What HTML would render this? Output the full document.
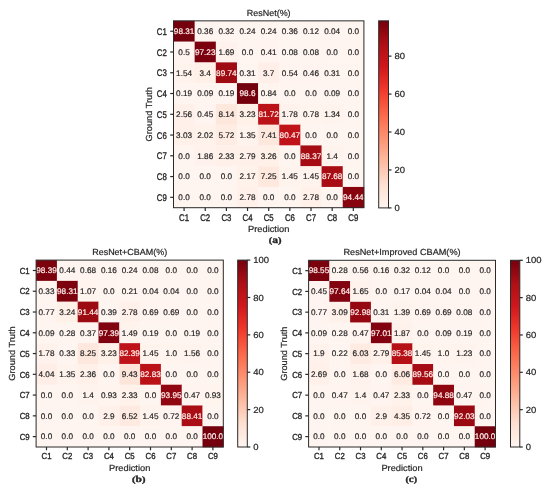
<!DOCTYPE html>
<html><head><meta charset="utf-8"><style>
html,body{margin:0;padding:0;background:#fff;}
body{width:550px;height:491px;overflow:hidden;}
svg{display:block;font-family:"Liberation Sans",sans-serif;text-rendering:geometricPrecision;will-change:transform;}
</style></head><body>
<svg width="550" height="491" viewBox="0 0 550 491">
<defs><linearGradient id="reds" x1="0" y1="0" x2="0" y2="1"><stop offset="0.0000" stop-color="#75000d"/><stop offset="0.1250" stop-color="#ae0f15"/><stop offset="0.2500" stop-color="#d1181d"/><stop offset="0.3750" stop-color="#f13a2c"/><stop offset="0.5000" stop-color="#fb694a"/><stop offset="0.6250" stop-color="#fc9272"/><stop offset="0.7500" stop-color="#fcbba1"/><stop offset="0.8750" stop-color="#fee0d2"/><stop offset="1.0000" stop-color="#fff5f0"/></linearGradient></defs>
<rect x="0" y="0" width="550" height="491" fill="#ffffff"/>
<rect x="173.50" y="20.85" width="21.46" height="21.06" fill="#75000d"/>
<rect x="194.66" y="20.85" width="21.46" height="21.06" fill="#fff5f0"/>
<rect x="215.81" y="20.85" width="21.46" height="21.06" fill="#fff5f0"/>
<rect x="236.97" y="20.85" width="21.46" height="21.06" fill="#fff5f0"/>
<rect x="258.12" y="20.85" width="21.46" height="21.06" fill="#fff5f0"/>
<rect x="279.28" y="20.85" width="21.46" height="21.06" fill="#fff5f0"/>
<rect x="300.43" y="20.85" width="21.46" height="21.06" fill="#fff5f0"/>
<rect x="321.59" y="20.85" width="21.46" height="21.06" fill="#fff5f0"/>
<rect x="342.74" y="20.85" width="21.46" height="21.06" fill="#fff5f0"/>
<rect x="173.50" y="41.61" width="21.46" height="21.06" fill="#fff4ef"/>
<rect x="194.66" y="41.61" width="21.46" height="21.06" fill="#7b010e"/>
<rect x="215.81" y="41.61" width="21.46" height="21.06" fill="#fff2ec"/>
<rect x="236.97" y="41.61" width="21.46" height="21.06" fill="#fff5f0"/>
<rect x="258.12" y="41.61" width="21.46" height="21.06" fill="#fff4ef"/>
<rect x="279.28" y="41.61" width="21.46" height="21.06" fill="#fff5f0"/>
<rect x="300.43" y="41.61" width="21.46" height="21.06" fill="#fff5f0"/>
<rect x="321.59" y="41.61" width="21.46" height="21.06" fill="#fff5f0"/>
<rect x="342.74" y="41.61" width="21.46" height="21.06" fill="#fff5f0"/>
<rect x="173.50" y="62.37" width="21.46" height="21.06" fill="#fff3ed"/>
<rect x="194.66" y="62.37" width="21.46" height="21.06" fill="#fff0e8"/>
<rect x="215.81" y="62.37" width="21.46" height="21.06" fill="#9f0b13"/>
<rect x="236.97" y="62.37" width="21.46" height="21.06" fill="#fff5f0"/>
<rect x="258.12" y="62.37" width="21.46" height="21.06" fill="#ffefe8"/>
<rect x="279.28" y="62.37" width="21.46" height="21.06" fill="#fff4ef"/>
<rect x="300.43" y="62.37" width="21.46" height="21.06" fill="#fff4ef"/>
<rect x="321.59" y="62.37" width="21.46" height="21.06" fill="#fff5f0"/>
<rect x="342.74" y="62.37" width="21.46" height="21.06" fill="#fff5f0"/>
<rect x="173.50" y="83.13" width="21.46" height="21.06" fill="#fff5f0"/>
<rect x="194.66" y="83.13" width="21.46" height="21.06" fill="#fff5f0"/>
<rect x="215.81" y="83.13" width="21.46" height="21.06" fill="#fff5f0"/>
<rect x="236.97" y="83.13" width="21.46" height="21.06" fill="#75000d"/>
<rect x="258.12" y="83.13" width="21.46" height="21.06" fill="#fff4ee"/>
<rect x="279.28" y="83.13" width="21.46" height="21.06" fill="#fff5f0"/>
<rect x="300.43" y="83.13" width="21.46" height="21.06" fill="#fff5f0"/>
<rect x="321.59" y="83.13" width="21.46" height="21.06" fill="#fff5f0"/>
<rect x="342.74" y="83.13" width="21.46" height="21.06" fill="#fff5f0"/>
<rect x="173.50" y="103.89" width="21.46" height="21.06" fill="#fff1ea"/>
<rect x="194.66" y="103.89" width="21.46" height="21.06" fill="#fff4ef"/>
<rect x="215.81" y="103.89" width="21.46" height="21.06" fill="#fee7dc"/>
<rect x="236.97" y="103.89" width="21.46" height="21.06" fill="#fff0e8"/>
<rect x="258.12" y="103.89" width="21.46" height="21.06" fill="#bb1218"/>
<rect x="279.28" y="103.89" width="21.46" height="21.06" fill="#fff2ec"/>
<rect x="300.43" y="103.89" width="21.46" height="21.06" fill="#fff4ee"/>
<rect x="321.59" y="103.89" width="21.46" height="21.06" fill="#fff3ed"/>
<rect x="342.74" y="103.89" width="21.46" height="21.06" fill="#fff5f0"/>
<rect x="173.50" y="124.66" width="21.46" height="21.06" fill="#fff0e9"/>
<rect x="194.66" y="124.66" width="21.46" height="21.06" fill="#fff2eb"/>
<rect x="215.81" y="124.66" width="21.46" height="21.06" fill="#ffece3"/>
<rect x="236.97" y="124.66" width="21.46" height="21.06" fill="#fff3ed"/>
<rect x="258.12" y="124.66" width="21.46" height="21.06" fill="#fee8de"/>
<rect x="279.28" y="124.66" width="21.46" height="21.06" fill="#c01319"/>
<rect x="300.43" y="124.66" width="21.46" height="21.06" fill="#fff5f0"/>
<rect x="321.59" y="124.66" width="21.46" height="21.06" fill="#fff5f0"/>
<rect x="342.74" y="124.66" width="21.46" height="21.06" fill="#fff5f0"/>
<rect x="173.50" y="145.42" width="21.46" height="21.06" fill="#fff5f0"/>
<rect x="194.66" y="145.42" width="21.46" height="21.06" fill="#fff2ec"/>
<rect x="215.81" y="145.42" width="21.46" height="21.06" fill="#fff1ea"/>
<rect x="236.97" y="145.42" width="21.46" height="21.06" fill="#fff0e9"/>
<rect x="258.12" y="145.42" width="21.46" height="21.06" fill="#fff0e8"/>
<rect x="279.28" y="145.42" width="21.46" height="21.06" fill="#fff5f0"/>
<rect x="300.43" y="145.42" width="21.46" height="21.06" fill="#a50c14"/>
<rect x="321.59" y="145.42" width="21.46" height="21.06" fill="#fff3ed"/>
<rect x="342.74" y="145.42" width="21.46" height="21.06" fill="#fff5f0"/>
<rect x="173.50" y="166.18" width="21.46" height="21.06" fill="#fff5f0"/>
<rect x="194.66" y="166.18" width="21.46" height="21.06" fill="#fff5f0"/>
<rect x="215.81" y="166.18" width="21.46" height="21.06" fill="#fff5f0"/>
<rect x="236.97" y="166.18" width="21.46" height="21.06" fill="#fff2eb"/>
<rect x="258.12" y="166.18" width="21.46" height="21.06" fill="#ffe9df"/>
<rect x="279.28" y="166.18" width="21.46" height="21.06" fill="#fff3ed"/>
<rect x="300.43" y="166.18" width="21.46" height="21.06" fill="#fff3ed"/>
<rect x="321.59" y="166.18" width="21.46" height="21.06" fill="#a80d14"/>
<rect x="342.74" y="166.18" width="21.46" height="21.06" fill="#fff5f0"/>
<rect x="173.50" y="186.94" width="21.46" height="21.06" fill="#fff5f0"/>
<rect x="194.66" y="186.94" width="21.46" height="21.06" fill="#fff5f0"/>
<rect x="215.81" y="186.94" width="21.46" height="21.06" fill="#fff5f0"/>
<rect x="236.97" y="186.94" width="21.46" height="21.06" fill="#fff0e9"/>
<rect x="258.12" y="186.94" width="21.46" height="21.06" fill="#fff5f0"/>
<rect x="279.28" y="186.94" width="21.46" height="21.06" fill="#fff5f0"/>
<rect x="300.43" y="186.94" width="21.46" height="21.06" fill="#fff0e9"/>
<rect x="321.59" y="186.94" width="21.46" height="21.06" fill="#fff5f0"/>
<rect x="342.74" y="186.94" width="21.46" height="21.06" fill="#880510"/>
<text x="184.08" y="34.05" font-size="8.16" text-anchor="middle" fill="#fff2ee" stroke="#fff2ee" stroke-width="0.2" textLength="20.50" lengthAdjust="spacingAndGlyphs" >98.31</text>
<text x="205.23" y="34.05" font-size="8.16" text-anchor="middle" fill="#262626" stroke="#262626" stroke-width="0.2" textLength="15.94" lengthAdjust="spacingAndGlyphs" >0.36</text>
<text x="226.39" y="34.05" font-size="8.16" text-anchor="middle" fill="#262626" stroke="#262626" stroke-width="0.2" textLength="15.94" lengthAdjust="spacingAndGlyphs" >0.32</text>
<text x="247.54" y="34.05" font-size="8.16" text-anchor="middle" fill="#262626" stroke="#262626" stroke-width="0.2" textLength="15.94" lengthAdjust="spacingAndGlyphs" >0.24</text>
<text x="268.70" y="34.05" font-size="8.16" text-anchor="middle" fill="#262626" stroke="#262626" stroke-width="0.2" textLength="15.94" lengthAdjust="spacingAndGlyphs" >0.24</text>
<text x="289.86" y="34.05" font-size="8.16" text-anchor="middle" fill="#262626" stroke="#262626" stroke-width="0.2" textLength="15.94" lengthAdjust="spacingAndGlyphs" >0.36</text>
<text x="311.01" y="34.05" font-size="8.16" text-anchor="middle" fill="#262626" stroke="#262626" stroke-width="0.2" textLength="15.94" lengthAdjust="spacingAndGlyphs" >0.12</text>
<text x="332.17" y="34.05" font-size="8.16" text-anchor="middle" fill="#262626" stroke="#262626" stroke-width="0.2" textLength="15.94" lengthAdjust="spacingAndGlyphs" >0.04</text>
<text x="353.32" y="34.05" font-size="8.16" text-anchor="middle" fill="#262626" stroke="#262626" stroke-width="0.2" textLength="11.39" lengthAdjust="spacingAndGlyphs" >0.0</text>
<text x="184.08" y="54.81" font-size="8.16" text-anchor="middle" fill="#262626" stroke="#262626" stroke-width="0.2" textLength="11.39" lengthAdjust="spacingAndGlyphs" >0.5</text>
<text x="205.23" y="54.81" font-size="8.16" text-anchor="middle" fill="#fff2ee" stroke="#fff2ee" stroke-width="0.2" textLength="20.50" lengthAdjust="spacingAndGlyphs" >97.23</text>
<text x="226.39" y="54.81" font-size="8.16" text-anchor="middle" fill="#262626" stroke="#262626" stroke-width="0.2" textLength="15.94" lengthAdjust="spacingAndGlyphs" >1.69</text>
<text x="247.54" y="54.81" font-size="8.16" text-anchor="middle" fill="#262626" stroke="#262626" stroke-width="0.2" textLength="11.39" lengthAdjust="spacingAndGlyphs" >0.0</text>
<text x="268.70" y="54.81" font-size="8.16" text-anchor="middle" fill="#262626" stroke="#262626" stroke-width="0.2" textLength="15.94" lengthAdjust="spacingAndGlyphs" >0.41</text>
<text x="289.86" y="54.81" font-size="8.16" text-anchor="middle" fill="#262626" stroke="#262626" stroke-width="0.2" textLength="15.94" lengthAdjust="spacingAndGlyphs" >0.08</text>
<text x="311.01" y="54.81" font-size="8.16" text-anchor="middle" fill="#262626" stroke="#262626" stroke-width="0.2" textLength="15.94" lengthAdjust="spacingAndGlyphs" >0.08</text>
<text x="332.17" y="54.81" font-size="8.16" text-anchor="middle" fill="#262626" stroke="#262626" stroke-width="0.2" textLength="11.39" lengthAdjust="spacingAndGlyphs" >0.0</text>
<text x="353.32" y="54.81" font-size="8.16" text-anchor="middle" fill="#262626" stroke="#262626" stroke-width="0.2" textLength="11.39" lengthAdjust="spacingAndGlyphs" >0.0</text>
<text x="184.08" y="75.57" font-size="8.16" text-anchor="middle" fill="#262626" stroke="#262626" stroke-width="0.2" textLength="15.94" lengthAdjust="spacingAndGlyphs" >1.54</text>
<text x="205.23" y="75.57" font-size="8.16" text-anchor="middle" fill="#262626" stroke="#262626" stroke-width="0.2" textLength="11.39" lengthAdjust="spacingAndGlyphs" >3.4</text>
<text x="226.39" y="75.57" font-size="8.16" text-anchor="middle" fill="#fff2ee" stroke="#fff2ee" stroke-width="0.2" textLength="20.50" lengthAdjust="spacingAndGlyphs" >89.74</text>
<text x="247.54" y="75.57" font-size="8.16" text-anchor="middle" fill="#262626" stroke="#262626" stroke-width="0.2" textLength="15.94" lengthAdjust="spacingAndGlyphs" >0.31</text>
<text x="268.70" y="75.57" font-size="8.16" text-anchor="middle" fill="#262626" stroke="#262626" stroke-width="0.2" textLength="11.39" lengthAdjust="spacingAndGlyphs" >3.7</text>
<text x="289.86" y="75.57" font-size="8.16" text-anchor="middle" fill="#262626" stroke="#262626" stroke-width="0.2" textLength="15.94" lengthAdjust="spacingAndGlyphs" >0.54</text>
<text x="311.01" y="75.57" font-size="8.16" text-anchor="middle" fill="#262626" stroke="#262626" stroke-width="0.2" textLength="15.94" lengthAdjust="spacingAndGlyphs" >0.46</text>
<text x="332.17" y="75.57" font-size="8.16" text-anchor="middle" fill="#262626" stroke="#262626" stroke-width="0.2" textLength="15.94" lengthAdjust="spacingAndGlyphs" >0.31</text>
<text x="353.32" y="75.57" font-size="8.16" text-anchor="middle" fill="#262626" stroke="#262626" stroke-width="0.2" textLength="11.39" lengthAdjust="spacingAndGlyphs" >0.0</text>
<text x="184.08" y="96.33" font-size="8.16" text-anchor="middle" fill="#262626" stroke="#262626" stroke-width="0.2" textLength="15.94" lengthAdjust="spacingAndGlyphs" >0.19</text>
<text x="205.23" y="96.33" font-size="8.16" text-anchor="middle" fill="#262626" stroke="#262626" stroke-width="0.2" textLength="15.94" lengthAdjust="spacingAndGlyphs" >0.09</text>
<text x="226.39" y="96.33" font-size="8.16" text-anchor="middle" fill="#262626" stroke="#262626" stroke-width="0.2" textLength="15.94" lengthAdjust="spacingAndGlyphs" >0.19</text>
<text x="247.54" y="96.33" font-size="8.16" text-anchor="middle" fill="#fff2ee" stroke="#fff2ee" stroke-width="0.2" textLength="15.94" lengthAdjust="spacingAndGlyphs" >98.6</text>
<text x="268.70" y="96.33" font-size="8.16" text-anchor="middle" fill="#262626" stroke="#262626" stroke-width="0.2" textLength="15.94" lengthAdjust="spacingAndGlyphs" >0.84</text>
<text x="289.86" y="96.33" font-size="8.16" text-anchor="middle" fill="#262626" stroke="#262626" stroke-width="0.2" textLength="11.39" lengthAdjust="spacingAndGlyphs" >0.0</text>
<text x="311.01" y="96.33" font-size="8.16" text-anchor="middle" fill="#262626" stroke="#262626" stroke-width="0.2" textLength="11.39" lengthAdjust="spacingAndGlyphs" >0.0</text>
<text x="332.17" y="96.33" font-size="8.16" text-anchor="middle" fill="#262626" stroke="#262626" stroke-width="0.2" textLength="15.94" lengthAdjust="spacingAndGlyphs" >0.09</text>
<text x="353.32" y="96.33" font-size="8.16" text-anchor="middle" fill="#262626" stroke="#262626" stroke-width="0.2" textLength="11.39" lengthAdjust="spacingAndGlyphs" >0.0</text>
<text x="184.08" y="117.09" font-size="8.16" text-anchor="middle" fill="#262626" stroke="#262626" stroke-width="0.2" textLength="15.94" lengthAdjust="spacingAndGlyphs" >2.56</text>
<text x="205.23" y="117.09" font-size="8.16" text-anchor="middle" fill="#262626" stroke="#262626" stroke-width="0.2" textLength="15.94" lengthAdjust="spacingAndGlyphs" >0.45</text>
<text x="226.39" y="117.09" font-size="8.16" text-anchor="middle" fill="#262626" stroke="#262626" stroke-width="0.2" textLength="15.94" lengthAdjust="spacingAndGlyphs" >8.14</text>
<text x="247.54" y="117.09" font-size="8.16" text-anchor="middle" fill="#262626" stroke="#262626" stroke-width="0.2" textLength="15.94" lengthAdjust="spacingAndGlyphs" >3.23</text>
<text x="268.70" y="117.09" font-size="8.16" text-anchor="middle" fill="#fff2ee" stroke="#fff2ee" stroke-width="0.2" textLength="20.50" lengthAdjust="spacingAndGlyphs" >81.72</text>
<text x="289.86" y="117.09" font-size="8.16" text-anchor="middle" fill="#262626" stroke="#262626" stroke-width="0.2" textLength="15.94" lengthAdjust="spacingAndGlyphs" >1.78</text>
<text x="311.01" y="117.09" font-size="8.16" text-anchor="middle" fill="#262626" stroke="#262626" stroke-width="0.2" textLength="15.94" lengthAdjust="spacingAndGlyphs" >0.78</text>
<text x="332.17" y="117.09" font-size="8.16" text-anchor="middle" fill="#262626" stroke="#262626" stroke-width="0.2" textLength="15.94" lengthAdjust="spacingAndGlyphs" >1.34</text>
<text x="353.32" y="117.09" font-size="8.16" text-anchor="middle" fill="#262626" stroke="#262626" stroke-width="0.2" textLength="11.39" lengthAdjust="spacingAndGlyphs" >0.0</text>
<text x="184.08" y="137.85" font-size="8.16" text-anchor="middle" fill="#262626" stroke="#262626" stroke-width="0.2" textLength="15.94" lengthAdjust="spacingAndGlyphs" >3.03</text>
<text x="205.23" y="137.85" font-size="8.16" text-anchor="middle" fill="#262626" stroke="#262626" stroke-width="0.2" textLength="15.94" lengthAdjust="spacingAndGlyphs" >2.02</text>
<text x="226.39" y="137.85" font-size="8.16" text-anchor="middle" fill="#262626" stroke="#262626" stroke-width="0.2" textLength="15.94" lengthAdjust="spacingAndGlyphs" >5.72</text>
<text x="247.54" y="137.85" font-size="8.16" text-anchor="middle" fill="#262626" stroke="#262626" stroke-width="0.2" textLength="15.94" lengthAdjust="spacingAndGlyphs" >1.35</text>
<text x="268.70" y="137.85" font-size="8.16" text-anchor="middle" fill="#262626" stroke="#262626" stroke-width="0.2" textLength="15.94" lengthAdjust="spacingAndGlyphs" >7.41</text>
<text x="289.86" y="137.85" font-size="8.16" text-anchor="middle" fill="#fff2ee" stroke="#fff2ee" stroke-width="0.2" textLength="20.50" lengthAdjust="spacingAndGlyphs" >80.47</text>
<text x="311.01" y="137.85" font-size="8.16" text-anchor="middle" fill="#262626" stroke="#262626" stroke-width="0.2" textLength="11.39" lengthAdjust="spacingAndGlyphs" >0.0</text>
<text x="332.17" y="137.85" font-size="8.16" text-anchor="middle" fill="#262626" stroke="#262626" stroke-width="0.2" textLength="11.39" lengthAdjust="spacingAndGlyphs" >0.0</text>
<text x="353.32" y="137.85" font-size="8.16" text-anchor="middle" fill="#262626" stroke="#262626" stroke-width="0.2" textLength="11.39" lengthAdjust="spacingAndGlyphs" >0.0</text>
<text x="184.08" y="158.61" font-size="8.16" text-anchor="middle" fill="#262626" stroke="#262626" stroke-width="0.2" textLength="11.39" lengthAdjust="spacingAndGlyphs" >0.0</text>
<text x="205.23" y="158.61" font-size="8.16" text-anchor="middle" fill="#262626" stroke="#262626" stroke-width="0.2" textLength="15.94" lengthAdjust="spacingAndGlyphs" >1.86</text>
<text x="226.39" y="158.61" font-size="8.16" text-anchor="middle" fill="#262626" stroke="#262626" stroke-width="0.2" textLength="15.94" lengthAdjust="spacingAndGlyphs" >2.33</text>
<text x="247.54" y="158.61" font-size="8.16" text-anchor="middle" fill="#262626" stroke="#262626" stroke-width="0.2" textLength="15.94" lengthAdjust="spacingAndGlyphs" >2.79</text>
<text x="268.70" y="158.61" font-size="8.16" text-anchor="middle" fill="#262626" stroke="#262626" stroke-width="0.2" textLength="15.94" lengthAdjust="spacingAndGlyphs" >3.26</text>
<text x="289.86" y="158.61" font-size="8.16" text-anchor="middle" fill="#262626" stroke="#262626" stroke-width="0.2" textLength="11.39" lengthAdjust="spacingAndGlyphs" >0.0</text>
<text x="311.01" y="158.61" font-size="8.16" text-anchor="middle" fill="#fff2ee" stroke="#fff2ee" stroke-width="0.2" textLength="20.50" lengthAdjust="spacingAndGlyphs" >88.37</text>
<text x="332.17" y="158.61" font-size="8.16" text-anchor="middle" fill="#262626" stroke="#262626" stroke-width="0.2" textLength="11.39" lengthAdjust="spacingAndGlyphs" >1.4</text>
<text x="353.32" y="158.61" font-size="8.16" text-anchor="middle" fill="#262626" stroke="#262626" stroke-width="0.2" textLength="11.39" lengthAdjust="spacingAndGlyphs" >0.0</text>
<text x="184.08" y="179.37" font-size="8.16" text-anchor="middle" fill="#262626" stroke="#262626" stroke-width="0.2" textLength="11.39" lengthAdjust="spacingAndGlyphs" >0.0</text>
<text x="205.23" y="179.37" font-size="8.16" text-anchor="middle" fill="#262626" stroke="#262626" stroke-width="0.2" textLength="11.39" lengthAdjust="spacingAndGlyphs" >0.0</text>
<text x="226.39" y="179.37" font-size="8.16" text-anchor="middle" fill="#262626" stroke="#262626" stroke-width="0.2" textLength="11.39" lengthAdjust="spacingAndGlyphs" >0.0</text>
<text x="247.54" y="179.37" font-size="8.16" text-anchor="middle" fill="#262626" stroke="#262626" stroke-width="0.2" textLength="15.94" lengthAdjust="spacingAndGlyphs" >2.17</text>
<text x="268.70" y="179.37" font-size="8.16" text-anchor="middle" fill="#262626" stroke="#262626" stroke-width="0.2" textLength="15.94" lengthAdjust="spacingAndGlyphs" >7.25</text>
<text x="289.86" y="179.37" font-size="8.16" text-anchor="middle" fill="#262626" stroke="#262626" stroke-width="0.2" textLength="15.94" lengthAdjust="spacingAndGlyphs" >1.45</text>
<text x="311.01" y="179.37" font-size="8.16" text-anchor="middle" fill="#262626" stroke="#262626" stroke-width="0.2" textLength="15.94" lengthAdjust="spacingAndGlyphs" >1.45</text>
<text x="332.17" y="179.37" font-size="8.16" text-anchor="middle" fill="#fff2ee" stroke="#fff2ee" stroke-width="0.2" textLength="20.50" lengthAdjust="spacingAndGlyphs" >87.68</text>
<text x="353.32" y="179.37" font-size="8.16" text-anchor="middle" fill="#262626" stroke="#262626" stroke-width="0.2" textLength="11.39" lengthAdjust="spacingAndGlyphs" >0.0</text>
<text x="184.08" y="200.14" font-size="8.16" text-anchor="middle" fill="#262626" stroke="#262626" stroke-width="0.2" textLength="11.39" lengthAdjust="spacingAndGlyphs" >0.0</text>
<text x="205.23" y="200.14" font-size="8.16" text-anchor="middle" fill="#262626" stroke="#262626" stroke-width="0.2" textLength="11.39" lengthAdjust="spacingAndGlyphs" >0.0</text>
<text x="226.39" y="200.14" font-size="8.16" text-anchor="middle" fill="#262626" stroke="#262626" stroke-width="0.2" textLength="11.39" lengthAdjust="spacingAndGlyphs" >0.0</text>
<text x="247.54" y="200.14" font-size="8.16" text-anchor="middle" fill="#262626" stroke="#262626" stroke-width="0.2" textLength="15.94" lengthAdjust="spacingAndGlyphs" >2.78</text>
<text x="268.70" y="200.14" font-size="8.16" text-anchor="middle" fill="#262626" stroke="#262626" stroke-width="0.2" textLength="11.39" lengthAdjust="spacingAndGlyphs" >0.0</text>
<text x="289.86" y="200.14" font-size="8.16" text-anchor="middle" fill="#262626" stroke="#262626" stroke-width="0.2" textLength="11.39" lengthAdjust="spacingAndGlyphs" >0.0</text>
<text x="311.01" y="200.14" font-size="8.16" text-anchor="middle" fill="#262626" stroke="#262626" stroke-width="0.2" textLength="15.94" lengthAdjust="spacingAndGlyphs" >2.78</text>
<text x="332.17" y="200.14" font-size="8.16" text-anchor="middle" fill="#262626" stroke="#262626" stroke-width="0.2" textLength="11.39" lengthAdjust="spacingAndGlyphs" >0.0</text>
<text x="353.32" y="200.14" font-size="8.16" text-anchor="middle" fill="#fff2ee" stroke="#fff2ee" stroke-width="0.2" textLength="20.50" lengthAdjust="spacingAndGlyphs" >94.44</text>
<rect x="173.50" y="20.85" width="190.40" height="186.85" fill="none" stroke="#2a2a2a" stroke-width="1.0"/>
<line x1="170.20" y1="31.23" x2="173.50" y2="31.23" stroke="#2a2a2a" stroke-width="1.2"/>
<text x="166.80" y="34.77" font-size="9.68" text-anchor="end" fill="#262626" stroke="#262626" stroke-width="0.35" textLength="9.97" lengthAdjust="spacingAndGlyphs" >C1</text>
<line x1="184.08" y1="207.70" x2="184.08" y2="211.00" stroke="#2a2a2a" stroke-width="1.2"/>
<text x="184.08" y="220.55" font-size="9.68" text-anchor="middle" fill="#262626" stroke="#262626" stroke-width="0.35" textLength="9.97" lengthAdjust="spacingAndGlyphs" >C1</text>
<line x1="170.20" y1="51.99" x2="173.50" y2="51.99" stroke="#2a2a2a" stroke-width="1.2"/>
<text x="166.80" y="55.53" font-size="9.68" text-anchor="end" fill="#262626" stroke="#262626" stroke-width="0.35" textLength="9.97" lengthAdjust="spacingAndGlyphs" >C2</text>
<line x1="205.23" y1="207.70" x2="205.23" y2="211.00" stroke="#2a2a2a" stroke-width="1.2"/>
<text x="205.23" y="220.55" font-size="9.68" text-anchor="middle" fill="#262626" stroke="#262626" stroke-width="0.35" textLength="9.97" lengthAdjust="spacingAndGlyphs" >C2</text>
<line x1="170.20" y1="72.75" x2="173.50" y2="72.75" stroke="#2a2a2a" stroke-width="1.2"/>
<text x="166.80" y="76.29" font-size="9.68" text-anchor="end" fill="#262626" stroke="#262626" stroke-width="0.35" textLength="9.97" lengthAdjust="spacingAndGlyphs" >C3</text>
<line x1="226.39" y1="207.70" x2="226.39" y2="211.00" stroke="#2a2a2a" stroke-width="1.2"/>
<text x="226.39" y="220.55" font-size="9.68" text-anchor="middle" fill="#262626" stroke="#262626" stroke-width="0.35" textLength="9.97" lengthAdjust="spacingAndGlyphs" >C3</text>
<line x1="170.20" y1="93.51" x2="173.50" y2="93.51" stroke="#2a2a2a" stroke-width="1.2"/>
<text x="166.80" y="97.05" font-size="9.68" text-anchor="end" fill="#262626" stroke="#262626" stroke-width="0.35" textLength="9.97" lengthAdjust="spacingAndGlyphs" >C4</text>
<line x1="247.54" y1="207.70" x2="247.54" y2="211.00" stroke="#2a2a2a" stroke-width="1.2"/>
<text x="247.54" y="220.55" font-size="9.68" text-anchor="middle" fill="#262626" stroke="#262626" stroke-width="0.35" textLength="9.97" lengthAdjust="spacingAndGlyphs" >C4</text>
<line x1="170.20" y1="114.28" x2="173.50" y2="114.28" stroke="#2a2a2a" stroke-width="1.2"/>
<text x="166.80" y="117.81" font-size="9.68" text-anchor="end" fill="#262626" stroke="#262626" stroke-width="0.35" textLength="9.97" lengthAdjust="spacingAndGlyphs" >C5</text>
<line x1="268.70" y1="207.70" x2="268.70" y2="211.00" stroke="#2a2a2a" stroke-width="1.2"/>
<text x="268.70" y="220.55" font-size="9.68" text-anchor="middle" fill="#262626" stroke="#262626" stroke-width="0.35" textLength="9.97" lengthAdjust="spacingAndGlyphs" >C5</text>
<line x1="170.20" y1="135.04" x2="173.50" y2="135.04" stroke="#2a2a2a" stroke-width="1.2"/>
<text x="166.80" y="138.57" font-size="9.68" text-anchor="end" fill="#262626" stroke="#262626" stroke-width="0.35" textLength="9.97" lengthAdjust="spacingAndGlyphs" >C6</text>
<line x1="289.86" y1="207.70" x2="289.86" y2="211.00" stroke="#2a2a2a" stroke-width="1.2"/>
<text x="289.86" y="220.55" font-size="9.68" text-anchor="middle" fill="#262626" stroke="#262626" stroke-width="0.35" textLength="9.97" lengthAdjust="spacingAndGlyphs" >C6</text>
<line x1="170.20" y1="155.80" x2="173.50" y2="155.80" stroke="#2a2a2a" stroke-width="1.2"/>
<text x="166.80" y="159.34" font-size="9.68" text-anchor="end" fill="#262626" stroke="#262626" stroke-width="0.35" textLength="9.97" lengthAdjust="spacingAndGlyphs" >C7</text>
<line x1="311.01" y1="207.70" x2="311.01" y2="211.00" stroke="#2a2a2a" stroke-width="1.2"/>
<text x="311.01" y="220.55" font-size="9.68" text-anchor="middle" fill="#262626" stroke="#262626" stroke-width="0.35" textLength="9.97" lengthAdjust="spacingAndGlyphs" >C7</text>
<line x1="170.20" y1="176.56" x2="173.50" y2="176.56" stroke="#2a2a2a" stroke-width="1.2"/>
<text x="166.80" y="180.10" font-size="9.68" text-anchor="end" fill="#262626" stroke="#262626" stroke-width="0.35" textLength="9.97" lengthAdjust="spacingAndGlyphs" >C8</text>
<line x1="332.17" y1="207.70" x2="332.17" y2="211.00" stroke="#2a2a2a" stroke-width="1.2"/>
<text x="332.17" y="220.55" font-size="9.68" text-anchor="middle" fill="#262626" stroke="#262626" stroke-width="0.35" textLength="9.97" lengthAdjust="spacingAndGlyphs" >C8</text>
<line x1="170.20" y1="197.32" x2="173.50" y2="197.32" stroke="#2a2a2a" stroke-width="1.2"/>
<text x="166.80" y="200.86" font-size="9.68" text-anchor="end" fill="#262626" stroke="#262626" stroke-width="0.35" textLength="9.97" lengthAdjust="spacingAndGlyphs" >C9</text>
<line x1="353.32" y1="207.70" x2="353.32" y2="211.00" stroke="#2a2a2a" stroke-width="1.2"/>
<text x="353.32" y="220.55" font-size="9.68" text-anchor="middle" fill="#262626" stroke="#262626" stroke-width="0.35" textLength="9.97" lengthAdjust="spacingAndGlyphs" >C9</text>
<text x="268.70" y="15.50" font-size="8.80" text-anchor="middle" fill="#262626" stroke="#262626" stroke-width="0.2" textLength="43.76" lengthAdjust="spacingAndGlyphs" >ResNet(%)</text>
<text x="268.70" y="232.20" font-size="8.80" text-anchor="middle" fill="#262626" stroke="#262626" stroke-width="0.2" textLength="41.23" lengthAdjust="spacingAndGlyphs" >Prediction</text>
<text x="152.20" y="114.27" font-size="8.80" text-anchor="middle" fill="#262626" stroke="#262626" stroke-width="0.2" textLength="54.21" lengthAdjust="spacingAndGlyphs" transform="rotate(-90 152.20 114.27)">Ground Truth</text>
<rect x="378.70" y="20.85" width="9.80" height="187.05" fill="url(#reds)" stroke="#2a2a2a" stroke-width="1.0"/>
<line x1="388.50" y1="207.90" x2="391.50" y2="207.90" stroke="#2a2a2a" stroke-width="1.2"/>
<text x="394.50" y="210.94" font-size="8.80" text-anchor="start" fill="#262626" stroke="#262626" stroke-width="0.2" textLength="5.28" lengthAdjust="spacingAndGlyphs" >0</text>
<line x1="388.50" y1="169.96" x2="391.50" y2="169.96" stroke="#2a2a2a" stroke-width="1.2"/>
<text x="394.50" y="172.99" font-size="8.80" text-anchor="start" fill="#262626" stroke="#262626" stroke-width="0.2" textLength="10.56" lengthAdjust="spacingAndGlyphs" >20</text>
<line x1="388.50" y1="132.02" x2="391.50" y2="132.02" stroke="#2a2a2a" stroke-width="1.2"/>
<text x="394.50" y="135.05" font-size="8.80" text-anchor="start" fill="#262626" stroke="#262626" stroke-width="0.2" textLength="10.56" lengthAdjust="spacingAndGlyphs" >40</text>
<line x1="388.50" y1="94.08" x2="391.50" y2="94.08" stroke="#2a2a2a" stroke-width="1.2"/>
<text x="394.50" y="97.11" font-size="8.80" text-anchor="start" fill="#262626" stroke="#262626" stroke-width="0.2" textLength="10.56" lengthAdjust="spacingAndGlyphs" >60</text>
<line x1="388.50" y1="56.14" x2="391.50" y2="56.14" stroke="#2a2a2a" stroke-width="1.2"/>
<text x="394.50" y="59.17" font-size="8.80" text-anchor="start" fill="#262626" stroke="#262626" stroke-width="0.2" textLength="10.56" lengthAdjust="spacingAndGlyphs" >80</text>
<text x="275.05" y="243.46" font-size="8.57" font-weight="bold" font-family="Liberation Serif, serif" text-anchor="middle" fill="#262626" stroke="#262626" stroke-width="0.35" textLength="12.85" lengthAdjust="spacingAndGlyphs">(<tspan font-size="9.43">a</tspan>)</text>
<rect x="36.10" y="260.10" width="21.10" height="21.07" fill="#7c020e"/>
<rect x="56.90" y="260.10" width="21.10" height="21.07" fill="#fff4ef"/>
<rect x="77.70" y="260.10" width="21.10" height="21.07" fill="#fff4ef"/>
<rect x="98.50" y="260.10" width="21.10" height="21.07" fill="#fff5f0"/>
<rect x="119.30" y="260.10" width="21.10" height="21.07" fill="#fff5f0"/>
<rect x="140.10" y="260.10" width="21.10" height="21.07" fill="#fff5f0"/>
<rect x="160.90" y="260.10" width="21.10" height="21.07" fill="#fff5f0"/>
<rect x="181.70" y="260.10" width="21.10" height="21.07" fill="#fff5f0"/>
<rect x="202.50" y="260.10" width="21.10" height="21.07" fill="#fff5f0"/>
<rect x="36.10" y="280.87" width="21.10" height="21.07" fill="#fff5f0"/>
<rect x="56.90" y="280.87" width="21.10" height="21.07" fill="#7c020e"/>
<rect x="77.70" y="280.87" width="21.10" height="21.07" fill="#fff4ee"/>
<rect x="98.50" y="280.87" width="21.10" height="21.07" fill="#fff5f0"/>
<rect x="119.30" y="280.87" width="21.10" height="21.07" fill="#fff5f0"/>
<rect x="140.10" y="280.87" width="21.10" height="21.07" fill="#fff5f0"/>
<rect x="160.90" y="280.87" width="21.10" height="21.07" fill="#fff5f0"/>
<rect x="181.70" y="280.87" width="21.10" height="21.07" fill="#fff5f0"/>
<rect x="202.50" y="280.87" width="21.10" height="21.07" fill="#fff5f0"/>
<rect x="36.10" y="301.63" width="21.10" height="21.07" fill="#fff4ef"/>
<rect x="56.90" y="301.63" width="21.10" height="21.07" fill="#fff0e8"/>
<rect x="77.70" y="301.63" width="21.10" height="21.07" fill="#9c0a12"/>
<rect x="98.50" y="301.63" width="21.10" height="21.07" fill="#fff5f0"/>
<rect x="119.30" y="301.63" width="21.10" height="21.07" fill="#fff0e9"/>
<rect x="140.10" y="301.63" width="21.10" height="21.07" fill="#fff4ef"/>
<rect x="160.90" y="301.63" width="21.10" height="21.07" fill="#fff4ef"/>
<rect x="181.70" y="301.63" width="21.10" height="21.07" fill="#fff5f0"/>
<rect x="202.50" y="301.63" width="21.10" height="21.07" fill="#fff5f0"/>
<rect x="36.10" y="322.40" width="21.10" height="21.07" fill="#fff5f0"/>
<rect x="56.90" y="322.40" width="21.10" height="21.07" fill="#fff5f0"/>
<rect x="77.70" y="322.40" width="21.10" height="21.07" fill="#fff5f0"/>
<rect x="98.50" y="322.40" width="21.10" height="21.07" fill="#80030f"/>
<rect x="119.30" y="322.40" width="21.10" height="21.07" fill="#fff3ed"/>
<rect x="140.10" y="322.40" width="21.10" height="21.07" fill="#fff5f0"/>
<rect x="160.90" y="322.40" width="21.10" height="21.07" fill="#fff5f0"/>
<rect x="181.70" y="322.40" width="21.10" height="21.07" fill="#fff5f0"/>
<rect x="202.50" y="322.40" width="21.10" height="21.07" fill="#fff5f0"/>
<rect x="36.10" y="343.17" width="21.10" height="21.07" fill="#fff2ec"/>
<rect x="56.90" y="343.17" width="21.10" height="21.07" fill="#fff5f0"/>
<rect x="77.70" y="343.17" width="21.10" height="21.07" fill="#fee7dc"/>
<rect x="98.50" y="343.17" width="21.10" height="21.07" fill="#fff0e8"/>
<rect x="119.30" y="343.17" width="21.10" height="21.07" fill="#be1318"/>
<rect x="140.10" y="343.17" width="21.10" height="21.07" fill="#fff3ed"/>
<rect x="160.90" y="343.17" width="21.10" height="21.07" fill="#fff4ee"/>
<rect x="181.70" y="343.17" width="21.10" height="21.07" fill="#fff3ed"/>
<rect x="202.50" y="343.17" width="21.10" height="21.07" fill="#fff5f0"/>
<rect x="36.10" y="363.93" width="21.10" height="21.07" fill="#ffeee7"/>
<rect x="56.90" y="363.93" width="21.10" height="21.07" fill="#fff3ed"/>
<rect x="77.70" y="363.93" width="21.10" height="21.07" fill="#fff1ea"/>
<rect x="98.50" y="363.93" width="21.10" height="21.07" fill="#fff5f0"/>
<rect x="119.30" y="363.93" width="21.10" height="21.07" fill="#fee5d9"/>
<rect x="140.10" y="363.93" width="21.10" height="21.07" fill="#bb1218"/>
<rect x="160.90" y="363.93" width="21.10" height="21.07" fill="#fff5f0"/>
<rect x="181.70" y="363.93" width="21.10" height="21.07" fill="#fff5f0"/>
<rect x="202.50" y="363.93" width="21.10" height="21.07" fill="#fff5f0"/>
<rect x="36.10" y="384.70" width="21.10" height="21.07" fill="#fff5f0"/>
<rect x="56.90" y="384.70" width="21.10" height="21.07" fill="#fff5f0"/>
<rect x="77.70" y="384.70" width="21.10" height="21.07" fill="#fff3ed"/>
<rect x="98.50" y="384.70" width="21.10" height="21.07" fill="#fff4ee"/>
<rect x="119.30" y="384.70" width="21.10" height="21.07" fill="#fff2eb"/>
<rect x="140.10" y="384.70" width="21.10" height="21.07" fill="#fff5f0"/>
<rect x="160.90" y="384.70" width="21.10" height="21.07" fill="#910711"/>
<rect x="181.70" y="384.70" width="21.10" height="21.07" fill="#fff4ef"/>
<rect x="202.50" y="384.70" width="21.10" height="21.07" fill="#fff4ee"/>
<rect x="36.10" y="405.47" width="21.10" height="21.07" fill="#fff5f0"/>
<rect x="56.90" y="405.47" width="21.10" height="21.07" fill="#fff5f0"/>
<rect x="77.70" y="405.47" width="21.10" height="21.07" fill="#fff5f0"/>
<rect x="98.50" y="405.47" width="21.10" height="21.07" fill="#fff0e9"/>
<rect x="119.30" y="405.47" width="21.10" height="21.07" fill="#ffeae1"/>
<rect x="140.10" y="405.47" width="21.10" height="21.07" fill="#fff3ed"/>
<rect x="160.90" y="405.47" width="21.10" height="21.07" fill="#fff4ef"/>
<rect x="181.70" y="405.47" width="21.10" height="21.07" fill="#aa0e14"/>
<rect x="202.50" y="405.47" width="21.10" height="21.07" fill="#fff5f0"/>
<rect x="36.10" y="426.23" width="21.10" height="21.07" fill="#fff5f0"/>
<rect x="56.90" y="426.23" width="21.10" height="21.07" fill="#fff5f0"/>
<rect x="77.70" y="426.23" width="21.10" height="21.07" fill="#fff5f0"/>
<rect x="98.50" y="426.23" width="21.10" height="21.07" fill="#fff5f0"/>
<rect x="119.30" y="426.23" width="21.10" height="21.07" fill="#fff5f0"/>
<rect x="140.10" y="426.23" width="21.10" height="21.07" fill="#fff5f0"/>
<rect x="160.90" y="426.23" width="21.10" height="21.07" fill="#fff5f0"/>
<rect x="181.70" y="426.23" width="21.10" height="21.07" fill="#fff5f0"/>
<rect x="202.50" y="426.23" width="21.10" height="21.07" fill="#75000d"/>
<text x="46.50" y="273.30" font-size="8.16" text-anchor="middle" fill="#fff2ee" stroke="#fff2ee" stroke-width="0.2" textLength="20.50" lengthAdjust="spacingAndGlyphs" >98.39</text>
<text x="67.30" y="273.30" font-size="8.16" text-anchor="middle" fill="#262626" stroke="#262626" stroke-width="0.2" textLength="15.94" lengthAdjust="spacingAndGlyphs" >0.44</text>
<text x="88.10" y="273.30" font-size="8.16" text-anchor="middle" fill="#262626" stroke="#262626" stroke-width="0.2" textLength="15.94" lengthAdjust="spacingAndGlyphs" >0.68</text>
<text x="108.90" y="273.30" font-size="8.16" text-anchor="middle" fill="#262626" stroke="#262626" stroke-width="0.2" textLength="15.94" lengthAdjust="spacingAndGlyphs" >0.16</text>
<text x="129.70" y="273.30" font-size="8.16" text-anchor="middle" fill="#262626" stroke="#262626" stroke-width="0.2" textLength="15.94" lengthAdjust="spacingAndGlyphs" >0.24</text>
<text x="150.50" y="273.30" font-size="8.16" text-anchor="middle" fill="#262626" stroke="#262626" stroke-width="0.2" textLength="15.94" lengthAdjust="spacingAndGlyphs" >0.08</text>
<text x="171.30" y="273.30" font-size="8.16" text-anchor="middle" fill="#262626" stroke="#262626" stroke-width="0.2" textLength="11.39" lengthAdjust="spacingAndGlyphs" >0.0</text>
<text x="192.10" y="273.30" font-size="8.16" text-anchor="middle" fill="#262626" stroke="#262626" stroke-width="0.2" textLength="11.39" lengthAdjust="spacingAndGlyphs" >0.0</text>
<text x="212.90" y="273.30" font-size="8.16" text-anchor="middle" fill="#262626" stroke="#262626" stroke-width="0.2" textLength="11.39" lengthAdjust="spacingAndGlyphs" >0.0</text>
<text x="46.50" y="294.07" font-size="8.16" text-anchor="middle" fill="#262626" stroke="#262626" stroke-width="0.2" textLength="15.94" lengthAdjust="spacingAndGlyphs" >0.33</text>
<text x="67.30" y="294.07" font-size="8.16" text-anchor="middle" fill="#fff2ee" stroke="#fff2ee" stroke-width="0.2" textLength="20.50" lengthAdjust="spacingAndGlyphs" >98.31</text>
<text x="88.10" y="294.07" font-size="8.16" text-anchor="middle" fill="#262626" stroke="#262626" stroke-width="0.2" textLength="15.94" lengthAdjust="spacingAndGlyphs" >1.07</text>
<text x="108.90" y="294.07" font-size="8.16" text-anchor="middle" fill="#262626" stroke="#262626" stroke-width="0.2" textLength="11.39" lengthAdjust="spacingAndGlyphs" >0.0</text>
<text x="129.70" y="294.07" font-size="8.16" text-anchor="middle" fill="#262626" stroke="#262626" stroke-width="0.2" textLength="15.94" lengthAdjust="spacingAndGlyphs" >0.21</text>
<text x="150.50" y="294.07" font-size="8.16" text-anchor="middle" fill="#262626" stroke="#262626" stroke-width="0.2" textLength="15.94" lengthAdjust="spacingAndGlyphs" >0.04</text>
<text x="171.30" y="294.07" font-size="8.16" text-anchor="middle" fill="#262626" stroke="#262626" stroke-width="0.2" textLength="15.94" lengthAdjust="spacingAndGlyphs" >0.04</text>
<text x="192.10" y="294.07" font-size="8.16" text-anchor="middle" fill="#262626" stroke="#262626" stroke-width="0.2" textLength="11.39" lengthAdjust="spacingAndGlyphs" >0.0</text>
<text x="212.90" y="294.07" font-size="8.16" text-anchor="middle" fill="#262626" stroke="#262626" stroke-width="0.2" textLength="11.39" lengthAdjust="spacingAndGlyphs" >0.0</text>
<text x="46.50" y="314.83" font-size="8.16" text-anchor="middle" fill="#262626" stroke="#262626" stroke-width="0.2" textLength="15.94" lengthAdjust="spacingAndGlyphs" >0.77</text>
<text x="67.30" y="314.83" font-size="8.16" text-anchor="middle" fill="#262626" stroke="#262626" stroke-width="0.2" textLength="15.94" lengthAdjust="spacingAndGlyphs" >3.24</text>
<text x="88.10" y="314.83" font-size="8.16" text-anchor="middle" fill="#fff2ee" stroke="#fff2ee" stroke-width="0.2" textLength="20.50" lengthAdjust="spacingAndGlyphs" >91.44</text>
<text x="108.90" y="314.83" font-size="8.16" text-anchor="middle" fill="#262626" stroke="#262626" stroke-width="0.2" textLength="15.94" lengthAdjust="spacingAndGlyphs" >0.39</text>
<text x="129.70" y="314.83" font-size="8.16" text-anchor="middle" fill="#262626" stroke="#262626" stroke-width="0.2" textLength="15.94" lengthAdjust="spacingAndGlyphs" >2.78</text>
<text x="150.50" y="314.83" font-size="8.16" text-anchor="middle" fill="#262626" stroke="#262626" stroke-width="0.2" textLength="15.94" lengthAdjust="spacingAndGlyphs" >0.69</text>
<text x="171.30" y="314.83" font-size="8.16" text-anchor="middle" fill="#262626" stroke="#262626" stroke-width="0.2" textLength="15.94" lengthAdjust="spacingAndGlyphs" >0.69</text>
<text x="192.10" y="314.83" font-size="8.16" text-anchor="middle" fill="#262626" stroke="#262626" stroke-width="0.2" textLength="11.39" lengthAdjust="spacingAndGlyphs" >0.0</text>
<text x="212.90" y="314.83" font-size="8.16" text-anchor="middle" fill="#262626" stroke="#262626" stroke-width="0.2" textLength="11.39" lengthAdjust="spacingAndGlyphs" >0.0</text>
<text x="46.50" y="335.60" font-size="8.16" text-anchor="middle" fill="#262626" stroke="#262626" stroke-width="0.2" textLength="15.94" lengthAdjust="spacingAndGlyphs" >0.09</text>
<text x="67.30" y="335.60" font-size="8.16" text-anchor="middle" fill="#262626" stroke="#262626" stroke-width="0.2" textLength="15.94" lengthAdjust="spacingAndGlyphs" >0.28</text>
<text x="88.10" y="335.60" font-size="8.16" text-anchor="middle" fill="#262626" stroke="#262626" stroke-width="0.2" textLength="15.94" lengthAdjust="spacingAndGlyphs" >0.37</text>
<text x="108.90" y="335.60" font-size="8.16" text-anchor="middle" fill="#fff2ee" stroke="#fff2ee" stroke-width="0.2" textLength="20.50" lengthAdjust="spacingAndGlyphs" >97.39</text>
<text x="129.70" y="335.60" font-size="8.16" text-anchor="middle" fill="#262626" stroke="#262626" stroke-width="0.2" textLength="15.94" lengthAdjust="spacingAndGlyphs" >1.49</text>
<text x="150.50" y="335.60" font-size="8.16" text-anchor="middle" fill="#262626" stroke="#262626" stroke-width="0.2" textLength="15.94" lengthAdjust="spacingAndGlyphs" >0.19</text>
<text x="171.30" y="335.60" font-size="8.16" text-anchor="middle" fill="#262626" stroke="#262626" stroke-width="0.2" textLength="11.39" lengthAdjust="spacingAndGlyphs" >0.0</text>
<text x="192.10" y="335.60" font-size="8.16" text-anchor="middle" fill="#262626" stroke="#262626" stroke-width="0.2" textLength="15.94" lengthAdjust="spacingAndGlyphs" >0.19</text>
<text x="212.90" y="335.60" font-size="8.16" text-anchor="middle" fill="#262626" stroke="#262626" stroke-width="0.2" textLength="11.39" lengthAdjust="spacingAndGlyphs" >0.0</text>
<text x="46.50" y="356.37" font-size="8.16" text-anchor="middle" fill="#262626" stroke="#262626" stroke-width="0.2" textLength="15.94" lengthAdjust="spacingAndGlyphs" >1.78</text>
<text x="67.30" y="356.37" font-size="8.16" text-anchor="middle" fill="#262626" stroke="#262626" stroke-width="0.2" textLength="15.94" lengthAdjust="spacingAndGlyphs" >0.33</text>
<text x="88.10" y="356.37" font-size="8.16" text-anchor="middle" fill="#262626" stroke="#262626" stroke-width="0.2" textLength="15.94" lengthAdjust="spacingAndGlyphs" >8.25</text>
<text x="108.90" y="356.37" font-size="8.16" text-anchor="middle" fill="#262626" stroke="#262626" stroke-width="0.2" textLength="15.94" lengthAdjust="spacingAndGlyphs" >3.23</text>
<text x="129.70" y="356.37" font-size="8.16" text-anchor="middle" fill="#fff2ee" stroke="#fff2ee" stroke-width="0.2" textLength="20.50" lengthAdjust="spacingAndGlyphs" >82.39</text>
<text x="150.50" y="356.37" font-size="8.16" text-anchor="middle" fill="#262626" stroke="#262626" stroke-width="0.2" textLength="15.94" lengthAdjust="spacingAndGlyphs" >1.45</text>
<text x="171.30" y="356.37" font-size="8.16" text-anchor="middle" fill="#262626" stroke="#262626" stroke-width="0.2" textLength="11.39" lengthAdjust="spacingAndGlyphs" >1.0</text>
<text x="192.10" y="356.37" font-size="8.16" text-anchor="middle" fill="#262626" stroke="#262626" stroke-width="0.2" textLength="15.94" lengthAdjust="spacingAndGlyphs" >1.56</text>
<text x="212.90" y="356.37" font-size="8.16" text-anchor="middle" fill="#262626" stroke="#262626" stroke-width="0.2" textLength="11.39" lengthAdjust="spacingAndGlyphs" >0.0</text>
<text x="46.50" y="377.13" font-size="8.16" text-anchor="middle" fill="#262626" stroke="#262626" stroke-width="0.2" textLength="15.94" lengthAdjust="spacingAndGlyphs" >4.04</text>
<text x="67.30" y="377.13" font-size="8.16" text-anchor="middle" fill="#262626" stroke="#262626" stroke-width="0.2" textLength="15.94" lengthAdjust="spacingAndGlyphs" >1.35</text>
<text x="88.10" y="377.13" font-size="8.16" text-anchor="middle" fill="#262626" stroke="#262626" stroke-width="0.2" textLength="15.94" lengthAdjust="spacingAndGlyphs" >2.36</text>
<text x="108.90" y="377.13" font-size="8.16" text-anchor="middle" fill="#262626" stroke="#262626" stroke-width="0.2" textLength="11.39" lengthAdjust="spacingAndGlyphs" >0.0</text>
<text x="129.70" y="377.13" font-size="8.16" text-anchor="middle" fill="#262626" stroke="#262626" stroke-width="0.2" textLength="15.94" lengthAdjust="spacingAndGlyphs" >9.43</text>
<text x="150.50" y="377.13" font-size="8.16" text-anchor="middle" fill="#fff2ee" stroke="#fff2ee" stroke-width="0.2" textLength="20.50" lengthAdjust="spacingAndGlyphs" >82.83</text>
<text x="171.30" y="377.13" font-size="8.16" text-anchor="middle" fill="#262626" stroke="#262626" stroke-width="0.2" textLength="11.39" lengthAdjust="spacingAndGlyphs" >0.0</text>
<text x="192.10" y="377.13" font-size="8.16" text-anchor="middle" fill="#262626" stroke="#262626" stroke-width="0.2" textLength="11.39" lengthAdjust="spacingAndGlyphs" >0.0</text>
<text x="212.90" y="377.13" font-size="8.16" text-anchor="middle" fill="#262626" stroke="#262626" stroke-width="0.2" textLength="11.39" lengthAdjust="spacingAndGlyphs" >0.0</text>
<text x="46.50" y="397.90" font-size="8.16" text-anchor="middle" fill="#262626" stroke="#262626" stroke-width="0.2" textLength="11.39" lengthAdjust="spacingAndGlyphs" >0.0</text>
<text x="67.30" y="397.90" font-size="8.16" text-anchor="middle" fill="#262626" stroke="#262626" stroke-width="0.2" textLength="11.39" lengthAdjust="spacingAndGlyphs" >0.0</text>
<text x="88.10" y="397.90" font-size="8.16" text-anchor="middle" fill="#262626" stroke="#262626" stroke-width="0.2" textLength="11.39" lengthAdjust="spacingAndGlyphs" >1.4</text>
<text x="108.90" y="397.90" font-size="8.16" text-anchor="middle" fill="#262626" stroke="#262626" stroke-width="0.2" textLength="15.94" lengthAdjust="spacingAndGlyphs" >0.93</text>
<text x="129.70" y="397.90" font-size="8.16" text-anchor="middle" fill="#262626" stroke="#262626" stroke-width="0.2" textLength="15.94" lengthAdjust="spacingAndGlyphs" >2.33</text>
<text x="150.50" y="397.90" font-size="8.16" text-anchor="middle" fill="#262626" stroke="#262626" stroke-width="0.2" textLength="11.39" lengthAdjust="spacingAndGlyphs" >0.0</text>
<text x="171.30" y="397.90" font-size="8.16" text-anchor="middle" fill="#fff2ee" stroke="#fff2ee" stroke-width="0.2" textLength="20.50" lengthAdjust="spacingAndGlyphs" >93.95</text>
<text x="192.10" y="397.90" font-size="8.16" text-anchor="middle" fill="#262626" stroke="#262626" stroke-width="0.2" textLength="15.94" lengthAdjust="spacingAndGlyphs" >0.47</text>
<text x="212.90" y="397.90" font-size="8.16" text-anchor="middle" fill="#262626" stroke="#262626" stroke-width="0.2" textLength="15.94" lengthAdjust="spacingAndGlyphs" >0.93</text>
<text x="46.50" y="418.67" font-size="8.16" text-anchor="middle" fill="#262626" stroke="#262626" stroke-width="0.2" textLength="11.39" lengthAdjust="spacingAndGlyphs" >0.0</text>
<text x="67.30" y="418.67" font-size="8.16" text-anchor="middle" fill="#262626" stroke="#262626" stroke-width="0.2" textLength="11.39" lengthAdjust="spacingAndGlyphs" >0.0</text>
<text x="88.10" y="418.67" font-size="8.16" text-anchor="middle" fill="#262626" stroke="#262626" stroke-width="0.2" textLength="11.39" lengthAdjust="spacingAndGlyphs" >0.0</text>
<text x="108.90" y="418.67" font-size="8.16" text-anchor="middle" fill="#262626" stroke="#262626" stroke-width="0.2" textLength="11.39" lengthAdjust="spacingAndGlyphs" >2.9</text>
<text x="129.70" y="418.67" font-size="8.16" text-anchor="middle" fill="#262626" stroke="#262626" stroke-width="0.2" textLength="15.94" lengthAdjust="spacingAndGlyphs" >6.52</text>
<text x="150.50" y="418.67" font-size="8.16" text-anchor="middle" fill="#262626" stroke="#262626" stroke-width="0.2" textLength="15.94" lengthAdjust="spacingAndGlyphs" >1.45</text>
<text x="171.30" y="418.67" font-size="8.16" text-anchor="middle" fill="#262626" stroke="#262626" stroke-width="0.2" textLength="15.94" lengthAdjust="spacingAndGlyphs" >0.72</text>
<text x="192.10" y="418.67" font-size="8.16" text-anchor="middle" fill="#fff2ee" stroke="#fff2ee" stroke-width="0.2" textLength="20.50" lengthAdjust="spacingAndGlyphs" >88.41</text>
<text x="212.90" y="418.67" font-size="8.16" text-anchor="middle" fill="#262626" stroke="#262626" stroke-width="0.2" textLength="11.39" lengthAdjust="spacingAndGlyphs" >0.0</text>
<text x="46.50" y="439.43" font-size="8.16" text-anchor="middle" fill="#262626" stroke="#262626" stroke-width="0.2" textLength="11.39" lengthAdjust="spacingAndGlyphs" >0.0</text>
<text x="67.30" y="439.43" font-size="8.16" text-anchor="middle" fill="#262626" stroke="#262626" stroke-width="0.2" textLength="11.39" lengthAdjust="spacingAndGlyphs" >0.0</text>
<text x="88.10" y="439.43" font-size="8.16" text-anchor="middle" fill="#262626" stroke="#262626" stroke-width="0.2" textLength="11.39" lengthAdjust="spacingAndGlyphs" >0.0</text>
<text x="108.90" y="439.43" font-size="8.16" text-anchor="middle" fill="#262626" stroke="#262626" stroke-width="0.2" textLength="11.39" lengthAdjust="spacingAndGlyphs" >0.0</text>
<text x="129.70" y="439.43" font-size="8.16" text-anchor="middle" fill="#262626" stroke="#262626" stroke-width="0.2" textLength="11.39" lengthAdjust="spacingAndGlyphs" >0.0</text>
<text x="150.50" y="439.43" font-size="8.16" text-anchor="middle" fill="#262626" stroke="#262626" stroke-width="0.2" textLength="11.39" lengthAdjust="spacingAndGlyphs" >0.0</text>
<text x="171.30" y="439.43" font-size="8.16" text-anchor="middle" fill="#262626" stroke="#262626" stroke-width="0.2" textLength="11.39" lengthAdjust="spacingAndGlyphs" >0.0</text>
<text x="192.10" y="439.43" font-size="8.16" text-anchor="middle" fill="#262626" stroke="#262626" stroke-width="0.2" textLength="11.39" lengthAdjust="spacingAndGlyphs" >0.0</text>
<text x="212.90" y="439.43" font-size="8.16" text-anchor="middle" fill="#fff2ee" stroke="#fff2ee" stroke-width="0.2" textLength="20.50" lengthAdjust="spacingAndGlyphs" >100.0</text>
<rect x="36.10" y="260.10" width="187.20" height="186.90" fill="none" stroke="#2a2a2a" stroke-width="1.0"/>
<line x1="32.80" y1="270.48" x2="36.10" y2="270.48" stroke="#2a2a2a" stroke-width="1.2"/>
<text x="29.60" y="273.72" font-size="8.80" text-anchor="end" fill="#262626" stroke="#262626" stroke-width="0.35" textLength="9.97" lengthAdjust="spacingAndGlyphs" >C1</text>
<line x1="46.50" y1="447.00" x2="46.50" y2="450.30" stroke="#2a2a2a" stroke-width="1.2"/>
<text x="46.50" y="459.15" font-size="8.80" text-anchor="middle" fill="#262626" stroke="#262626" stroke-width="0.35" textLength="9.97" lengthAdjust="spacingAndGlyphs" >C1</text>
<line x1="32.80" y1="291.25" x2="36.10" y2="291.25" stroke="#2a2a2a" stroke-width="1.2"/>
<text x="29.60" y="294.49" font-size="8.80" text-anchor="end" fill="#262626" stroke="#262626" stroke-width="0.35" textLength="9.97" lengthAdjust="spacingAndGlyphs" >C2</text>
<line x1="67.30" y1="447.00" x2="67.30" y2="450.30" stroke="#2a2a2a" stroke-width="1.2"/>
<text x="67.30" y="459.15" font-size="8.80" text-anchor="middle" fill="#262626" stroke="#262626" stroke-width="0.35" textLength="9.97" lengthAdjust="spacingAndGlyphs" >C2</text>
<line x1="32.80" y1="312.02" x2="36.10" y2="312.02" stroke="#2a2a2a" stroke-width="1.2"/>
<text x="29.60" y="315.25" font-size="8.80" text-anchor="end" fill="#262626" stroke="#262626" stroke-width="0.35" textLength="9.97" lengthAdjust="spacingAndGlyphs" >C3</text>
<line x1="88.10" y1="447.00" x2="88.10" y2="450.30" stroke="#2a2a2a" stroke-width="1.2"/>
<text x="88.10" y="459.15" font-size="8.80" text-anchor="middle" fill="#262626" stroke="#262626" stroke-width="0.35" textLength="9.97" lengthAdjust="spacingAndGlyphs" >C3</text>
<line x1="32.80" y1="332.78" x2="36.10" y2="332.78" stroke="#2a2a2a" stroke-width="1.2"/>
<text x="29.60" y="336.02" font-size="8.80" text-anchor="end" fill="#262626" stroke="#262626" stroke-width="0.35" textLength="9.97" lengthAdjust="spacingAndGlyphs" >C4</text>
<line x1="108.90" y1="447.00" x2="108.90" y2="450.30" stroke="#2a2a2a" stroke-width="1.2"/>
<text x="108.90" y="459.15" font-size="8.80" text-anchor="middle" fill="#262626" stroke="#262626" stroke-width="0.35" textLength="9.97" lengthAdjust="spacingAndGlyphs" >C4</text>
<line x1="32.80" y1="353.55" x2="36.10" y2="353.55" stroke="#2a2a2a" stroke-width="1.2"/>
<text x="29.60" y="356.79" font-size="8.80" text-anchor="end" fill="#262626" stroke="#262626" stroke-width="0.35" textLength="9.97" lengthAdjust="spacingAndGlyphs" >C5</text>
<line x1="129.70" y1="447.00" x2="129.70" y2="450.30" stroke="#2a2a2a" stroke-width="1.2"/>
<text x="129.70" y="459.15" font-size="8.80" text-anchor="middle" fill="#262626" stroke="#262626" stroke-width="0.35" textLength="9.97" lengthAdjust="spacingAndGlyphs" >C5</text>
<line x1="32.80" y1="374.32" x2="36.10" y2="374.32" stroke="#2a2a2a" stroke-width="1.2"/>
<text x="29.60" y="377.55" font-size="8.80" text-anchor="end" fill="#262626" stroke="#262626" stroke-width="0.35" textLength="9.97" lengthAdjust="spacingAndGlyphs" >C6</text>
<line x1="150.50" y1="447.00" x2="150.50" y2="450.30" stroke="#2a2a2a" stroke-width="1.2"/>
<text x="150.50" y="459.15" font-size="8.80" text-anchor="middle" fill="#262626" stroke="#262626" stroke-width="0.35" textLength="9.97" lengthAdjust="spacingAndGlyphs" >C6</text>
<line x1="32.80" y1="395.08" x2="36.10" y2="395.08" stroke="#2a2a2a" stroke-width="1.2"/>
<text x="29.60" y="398.32" font-size="8.80" text-anchor="end" fill="#262626" stroke="#262626" stroke-width="0.35" textLength="9.97" lengthAdjust="spacingAndGlyphs" >C7</text>
<line x1="171.30" y1="447.00" x2="171.30" y2="450.30" stroke="#2a2a2a" stroke-width="1.2"/>
<text x="171.30" y="459.15" font-size="8.80" text-anchor="middle" fill="#262626" stroke="#262626" stroke-width="0.35" textLength="9.97" lengthAdjust="spacingAndGlyphs" >C7</text>
<line x1="32.80" y1="415.85" x2="36.10" y2="415.85" stroke="#2a2a2a" stroke-width="1.2"/>
<text x="29.60" y="419.09" font-size="8.80" text-anchor="end" fill="#262626" stroke="#262626" stroke-width="0.35" textLength="9.97" lengthAdjust="spacingAndGlyphs" >C8</text>
<line x1="192.10" y1="447.00" x2="192.10" y2="450.30" stroke="#2a2a2a" stroke-width="1.2"/>
<text x="192.10" y="459.15" font-size="8.80" text-anchor="middle" fill="#262626" stroke="#262626" stroke-width="0.35" textLength="9.97" lengthAdjust="spacingAndGlyphs" >C8</text>
<line x1="32.80" y1="436.62" x2="36.10" y2="436.62" stroke="#2a2a2a" stroke-width="1.2"/>
<text x="29.60" y="439.85" font-size="8.80" text-anchor="end" fill="#262626" stroke="#262626" stroke-width="0.35" textLength="9.97" lengthAdjust="spacingAndGlyphs" >C9</text>
<line x1="212.90" y1="447.00" x2="212.90" y2="450.30" stroke="#2a2a2a" stroke-width="1.2"/>
<text x="212.90" y="459.15" font-size="8.80" text-anchor="middle" fill="#262626" stroke="#262626" stroke-width="0.35" textLength="9.97" lengthAdjust="spacingAndGlyphs" >C9</text>
<text x="129.70" y="254.90" font-size="8.80" text-anchor="middle" fill="#262626" stroke="#262626" stroke-width="0.2" textLength="75.04" lengthAdjust="spacingAndGlyphs" >ResNet+CBAM(%)</text>
<text x="129.70" y="470.60" font-size="8.80" text-anchor="middle" fill="#262626" stroke="#262626" stroke-width="0.2" textLength="41.23" lengthAdjust="spacingAndGlyphs" >Prediction</text>
<text x="15.20" y="353.55" font-size="8.80" text-anchor="middle" fill="#262626" stroke="#262626" stroke-width="0.2" textLength="54.21" lengthAdjust="spacingAndGlyphs" transform="rotate(-90 15.20 353.55)">Ground Truth</text>
<rect x="237.70" y="260.10" width="9.60" height="186.90" fill="url(#reds)" stroke="#2a2a2a" stroke-width="1.0"/>
<line x1="247.30" y1="447.00" x2="250.30" y2="447.00" stroke="#2a2a2a" stroke-width="1.2"/>
<text x="253.30" y="450.04" font-size="8.80" text-anchor="start" fill="#262626" stroke="#262626" stroke-width="0.2" textLength="5.28" lengthAdjust="spacingAndGlyphs" >0</text>
<line x1="247.30" y1="409.62" x2="250.30" y2="409.62" stroke="#2a2a2a" stroke-width="1.2"/>
<text x="253.30" y="412.66" font-size="8.80" text-anchor="start" fill="#262626" stroke="#262626" stroke-width="0.2" textLength="10.56" lengthAdjust="spacingAndGlyphs" >20</text>
<line x1="247.30" y1="372.24" x2="250.30" y2="372.24" stroke="#2a2a2a" stroke-width="1.2"/>
<text x="253.30" y="375.28" font-size="8.80" text-anchor="start" fill="#262626" stroke="#262626" stroke-width="0.2" textLength="10.56" lengthAdjust="spacingAndGlyphs" >40</text>
<line x1="247.30" y1="334.86" x2="250.30" y2="334.86" stroke="#2a2a2a" stroke-width="1.2"/>
<text x="253.30" y="337.90" font-size="8.80" text-anchor="start" fill="#262626" stroke="#262626" stroke-width="0.2" textLength="10.56" lengthAdjust="spacingAndGlyphs" >60</text>
<line x1="247.30" y1="297.48" x2="250.30" y2="297.48" stroke="#2a2a2a" stroke-width="1.2"/>
<text x="253.30" y="300.52" font-size="8.80" text-anchor="start" fill="#262626" stroke="#262626" stroke-width="0.2" textLength="10.56" lengthAdjust="spacingAndGlyphs" >80</text>
<line x1="247.30" y1="260.10" x2="250.30" y2="260.10" stroke="#2a2a2a" stroke-width="1.2"/>
<text x="253.30" y="263.14" font-size="8.80" text-anchor="start" fill="#262626" stroke="#262626" stroke-width="0.2" textLength="15.84" lengthAdjust="spacingAndGlyphs" >100</text>
<text x="138.85" y="482.20" font-size="8.24" font-weight="bold" font-family="Liberation Serif, serif" text-anchor="middle" fill="#262626" stroke="#262626" stroke-width="0.35" textLength="13.46" lengthAdjust="spacingAndGlyphs">(<tspan font-size="9.06">b</tspan>)</text>
<rect x="308.60" y="260.30" width="21.07" height="21.04" fill="#7b010e"/>
<rect x="329.37" y="260.30" width="21.07" height="21.04" fill="#fff5f0"/>
<rect x="350.13" y="260.30" width="21.07" height="21.04" fill="#fff4ef"/>
<rect x="370.90" y="260.30" width="21.07" height="21.04" fill="#fff5f0"/>
<rect x="391.67" y="260.30" width="21.07" height="21.04" fill="#fff5f0"/>
<rect x="412.43" y="260.30" width="21.07" height="21.04" fill="#fff5f0"/>
<rect x="433.20" y="260.30" width="21.07" height="21.04" fill="#fff5f0"/>
<rect x="453.97" y="260.30" width="21.07" height="21.04" fill="#fff5f0"/>
<rect x="474.73" y="260.30" width="21.07" height="21.04" fill="#fff5f0"/>
<rect x="308.60" y="281.04" width="21.07" height="21.04" fill="#fff4ef"/>
<rect x="329.37" y="281.04" width="21.07" height="21.04" fill="#80030f"/>
<rect x="350.13" y="281.04" width="21.07" height="21.04" fill="#fff2ec"/>
<rect x="370.90" y="281.04" width="21.07" height="21.04" fill="#fff5f0"/>
<rect x="391.67" y="281.04" width="21.07" height="21.04" fill="#fff5f0"/>
<rect x="412.43" y="281.04" width="21.07" height="21.04" fill="#fff5f0"/>
<rect x="433.20" y="281.04" width="21.07" height="21.04" fill="#fff5f0"/>
<rect x="453.97" y="281.04" width="21.07" height="21.04" fill="#fff5f0"/>
<rect x="474.73" y="281.04" width="21.07" height="21.04" fill="#fff5f0"/>
<rect x="308.60" y="301.79" width="21.07" height="21.04" fill="#fff4ef"/>
<rect x="329.37" y="301.79" width="21.07" height="21.04" fill="#fff0e9"/>
<rect x="350.13" y="301.79" width="21.07" height="21.04" fill="#950811"/>
<rect x="370.90" y="301.79" width="21.07" height="21.04" fill="#fff5f0"/>
<rect x="391.67" y="301.79" width="21.07" height="21.04" fill="#fff3ed"/>
<rect x="412.43" y="301.79" width="21.07" height="21.04" fill="#fff4ef"/>
<rect x="433.20" y="301.79" width="21.07" height="21.04" fill="#fff4ef"/>
<rect x="453.97" y="301.79" width="21.07" height="21.04" fill="#fff5f0"/>
<rect x="474.73" y="301.79" width="21.07" height="21.04" fill="#fff5f0"/>
<rect x="308.60" y="322.53" width="21.07" height="21.04" fill="#fff5f0"/>
<rect x="329.37" y="322.53" width="21.07" height="21.04" fill="#fff5f0"/>
<rect x="350.13" y="322.53" width="21.07" height="21.04" fill="#fff4ef"/>
<rect x="370.90" y="322.53" width="21.07" height="21.04" fill="#82030f"/>
<rect x="391.67" y="322.53" width="21.07" height="21.04" fill="#fff2ec"/>
<rect x="412.43" y="322.53" width="21.07" height="21.04" fill="#fff5f0"/>
<rect x="433.20" y="322.53" width="21.07" height="21.04" fill="#fff5f0"/>
<rect x="453.97" y="322.53" width="21.07" height="21.04" fill="#fff5f0"/>
<rect x="474.73" y="322.53" width="21.07" height="21.04" fill="#fff5f0"/>
<rect x="308.60" y="343.28" width="21.07" height="21.04" fill="#fff2ec"/>
<rect x="329.37" y="343.28" width="21.07" height="21.04" fill="#fff5f0"/>
<rect x="350.13" y="343.28" width="21.07" height="21.04" fill="#ffebe2"/>
<rect x="370.90" y="343.28" width="21.07" height="21.04" fill="#fff0e9"/>
<rect x="391.67" y="343.28" width="21.07" height="21.04" fill="#b51016"/>
<rect x="412.43" y="343.28" width="21.07" height="21.04" fill="#fff3ed"/>
<rect x="433.20" y="343.28" width="21.07" height="21.04" fill="#fff4ee"/>
<rect x="453.97" y="343.28" width="21.07" height="21.04" fill="#fff3ed"/>
<rect x="474.73" y="343.28" width="21.07" height="21.04" fill="#fff5f0"/>
<rect x="308.60" y="364.02" width="21.07" height="21.04" fill="#fff1ea"/>
<rect x="329.37" y="364.02" width="21.07" height="21.04" fill="#fff5f0"/>
<rect x="350.13" y="364.02" width="21.07" height="21.04" fill="#fff2ec"/>
<rect x="370.90" y="364.02" width="21.07" height="21.04" fill="#fff5f0"/>
<rect x="391.67" y="364.02" width="21.07" height="21.04" fill="#ffebe2"/>
<rect x="412.43" y="364.02" width="21.07" height="21.04" fill="#a50c14"/>
<rect x="433.20" y="364.02" width="21.07" height="21.04" fill="#fff5f0"/>
<rect x="453.97" y="364.02" width="21.07" height="21.04" fill="#fff5f0"/>
<rect x="474.73" y="364.02" width="21.07" height="21.04" fill="#fff5f0"/>
<rect x="308.60" y="384.77" width="21.07" height="21.04" fill="#fff5f0"/>
<rect x="329.37" y="384.77" width="21.07" height="21.04" fill="#fff4ef"/>
<rect x="350.13" y="384.77" width="21.07" height="21.04" fill="#fff3ed"/>
<rect x="370.90" y="384.77" width="21.07" height="21.04" fill="#fff4ef"/>
<rect x="391.67" y="384.77" width="21.07" height="21.04" fill="#fff2eb"/>
<rect x="412.43" y="384.77" width="21.07" height="21.04" fill="#fff5f0"/>
<rect x="433.20" y="384.77" width="21.07" height="21.04" fill="#8d0610"/>
<rect x="453.97" y="384.77" width="21.07" height="21.04" fill="#fff4ef"/>
<rect x="474.73" y="384.77" width="21.07" height="21.04" fill="#fff5f0"/>
<rect x="308.60" y="405.51" width="21.07" height="21.04" fill="#fff5f0"/>
<rect x="329.37" y="405.51" width="21.07" height="21.04" fill="#fff5f0"/>
<rect x="350.13" y="405.51" width="21.07" height="21.04" fill="#fff5f0"/>
<rect x="370.90" y="405.51" width="21.07" height="21.04" fill="#fff0e9"/>
<rect x="391.67" y="405.51" width="21.07" height="21.04" fill="#ffeee6"/>
<rect x="412.43" y="405.51" width="21.07" height="21.04" fill="#fff4ef"/>
<rect x="433.20" y="405.51" width="21.07" height="21.04" fill="#fff5f0"/>
<rect x="453.97" y="405.51" width="21.07" height="21.04" fill="#9a0912"/>
<rect x="474.73" y="405.51" width="21.07" height="21.04" fill="#fff5f0"/>
<rect x="308.60" y="426.26" width="21.07" height="21.04" fill="#fff5f0"/>
<rect x="329.37" y="426.26" width="21.07" height="21.04" fill="#fff5f0"/>
<rect x="350.13" y="426.26" width="21.07" height="21.04" fill="#fff5f0"/>
<rect x="370.90" y="426.26" width="21.07" height="21.04" fill="#fff5f0"/>
<rect x="391.67" y="426.26" width="21.07" height="21.04" fill="#fff5f0"/>
<rect x="412.43" y="426.26" width="21.07" height="21.04" fill="#fff5f0"/>
<rect x="433.20" y="426.26" width="21.07" height="21.04" fill="#fff5f0"/>
<rect x="453.97" y="426.26" width="21.07" height="21.04" fill="#fff5f0"/>
<rect x="474.73" y="426.26" width="21.07" height="21.04" fill="#75000d"/>
<text x="318.98" y="273.49" font-size="8.16" text-anchor="middle" fill="#fff2ee" stroke="#fff2ee" stroke-width="0.2" textLength="20.50" lengthAdjust="spacingAndGlyphs" >98.55</text>
<text x="339.75" y="273.49" font-size="8.16" text-anchor="middle" fill="#262626" stroke="#262626" stroke-width="0.2" textLength="15.94" lengthAdjust="spacingAndGlyphs" >0.28</text>
<text x="360.52" y="273.49" font-size="8.16" text-anchor="middle" fill="#262626" stroke="#262626" stroke-width="0.2" textLength="15.94" lengthAdjust="spacingAndGlyphs" >0.56</text>
<text x="381.28" y="273.49" font-size="8.16" text-anchor="middle" fill="#262626" stroke="#262626" stroke-width="0.2" textLength="15.94" lengthAdjust="spacingAndGlyphs" >0.16</text>
<text x="402.05" y="273.49" font-size="8.16" text-anchor="middle" fill="#262626" stroke="#262626" stroke-width="0.2" textLength="15.94" lengthAdjust="spacingAndGlyphs" >0.32</text>
<text x="422.82" y="273.49" font-size="8.16" text-anchor="middle" fill="#262626" stroke="#262626" stroke-width="0.2" textLength="15.94" lengthAdjust="spacingAndGlyphs" >0.12</text>
<text x="443.58" y="273.49" font-size="8.16" text-anchor="middle" fill="#262626" stroke="#262626" stroke-width="0.2" textLength="11.39" lengthAdjust="spacingAndGlyphs" >0.0</text>
<text x="464.35" y="273.49" font-size="8.16" text-anchor="middle" fill="#262626" stroke="#262626" stroke-width="0.2" textLength="11.39" lengthAdjust="spacingAndGlyphs" >0.0</text>
<text x="485.12" y="273.49" font-size="8.16" text-anchor="middle" fill="#262626" stroke="#262626" stroke-width="0.2" textLength="11.39" lengthAdjust="spacingAndGlyphs" >0.0</text>
<text x="318.98" y="294.23" font-size="8.16" text-anchor="middle" fill="#262626" stroke="#262626" stroke-width="0.2" textLength="15.94" lengthAdjust="spacingAndGlyphs" >0.45</text>
<text x="339.75" y="294.23" font-size="8.16" text-anchor="middle" fill="#fff2ee" stroke="#fff2ee" stroke-width="0.2" textLength="20.50" lengthAdjust="spacingAndGlyphs" >97.64</text>
<text x="360.52" y="294.23" font-size="8.16" text-anchor="middle" fill="#262626" stroke="#262626" stroke-width="0.2" textLength="15.94" lengthAdjust="spacingAndGlyphs" >1.65</text>
<text x="381.28" y="294.23" font-size="8.16" text-anchor="middle" fill="#262626" stroke="#262626" stroke-width="0.2" textLength="11.39" lengthAdjust="spacingAndGlyphs" >0.0</text>
<text x="402.05" y="294.23" font-size="8.16" text-anchor="middle" fill="#262626" stroke="#262626" stroke-width="0.2" textLength="15.94" lengthAdjust="spacingAndGlyphs" >0.17</text>
<text x="422.82" y="294.23" font-size="8.16" text-anchor="middle" fill="#262626" stroke="#262626" stroke-width="0.2" textLength="15.94" lengthAdjust="spacingAndGlyphs" >0.04</text>
<text x="443.58" y="294.23" font-size="8.16" text-anchor="middle" fill="#262626" stroke="#262626" stroke-width="0.2" textLength="15.94" lengthAdjust="spacingAndGlyphs" >0.04</text>
<text x="464.35" y="294.23" font-size="8.16" text-anchor="middle" fill="#262626" stroke="#262626" stroke-width="0.2" textLength="11.39" lengthAdjust="spacingAndGlyphs" >0.0</text>
<text x="485.12" y="294.23" font-size="8.16" text-anchor="middle" fill="#262626" stroke="#262626" stroke-width="0.2" textLength="11.39" lengthAdjust="spacingAndGlyphs" >0.0</text>
<text x="318.98" y="314.98" font-size="8.16" text-anchor="middle" fill="#262626" stroke="#262626" stroke-width="0.2" textLength="15.94" lengthAdjust="spacingAndGlyphs" >0.77</text>
<text x="339.75" y="314.98" font-size="8.16" text-anchor="middle" fill="#262626" stroke="#262626" stroke-width="0.2" textLength="15.94" lengthAdjust="spacingAndGlyphs" >3.09</text>
<text x="360.52" y="314.98" font-size="8.16" text-anchor="middle" fill="#fff2ee" stroke="#fff2ee" stroke-width="0.2" textLength="20.50" lengthAdjust="spacingAndGlyphs" >92.98</text>
<text x="381.28" y="314.98" font-size="8.16" text-anchor="middle" fill="#262626" stroke="#262626" stroke-width="0.2" textLength="15.94" lengthAdjust="spacingAndGlyphs" >0.31</text>
<text x="402.05" y="314.98" font-size="8.16" text-anchor="middle" fill="#262626" stroke="#262626" stroke-width="0.2" textLength="15.94" lengthAdjust="spacingAndGlyphs" >1.39</text>
<text x="422.82" y="314.98" font-size="8.16" text-anchor="middle" fill="#262626" stroke="#262626" stroke-width="0.2" textLength="15.94" lengthAdjust="spacingAndGlyphs" >0.69</text>
<text x="443.58" y="314.98" font-size="8.16" text-anchor="middle" fill="#262626" stroke="#262626" stroke-width="0.2" textLength="15.94" lengthAdjust="spacingAndGlyphs" >0.69</text>
<text x="464.35" y="314.98" font-size="8.16" text-anchor="middle" fill="#262626" stroke="#262626" stroke-width="0.2" textLength="15.94" lengthAdjust="spacingAndGlyphs" >0.08</text>
<text x="485.12" y="314.98" font-size="8.16" text-anchor="middle" fill="#262626" stroke="#262626" stroke-width="0.2" textLength="11.39" lengthAdjust="spacingAndGlyphs" >0.0</text>
<text x="318.98" y="335.72" font-size="8.16" text-anchor="middle" fill="#262626" stroke="#262626" stroke-width="0.2" textLength="15.94" lengthAdjust="spacingAndGlyphs" >0.09</text>
<text x="339.75" y="335.72" font-size="8.16" text-anchor="middle" fill="#262626" stroke="#262626" stroke-width="0.2" textLength="15.94" lengthAdjust="spacingAndGlyphs" >0.28</text>
<text x="360.52" y="335.72" font-size="8.16" text-anchor="middle" fill="#262626" stroke="#262626" stroke-width="0.2" textLength="15.94" lengthAdjust="spacingAndGlyphs" >0.47</text>
<text x="381.28" y="335.72" font-size="8.16" text-anchor="middle" fill="#fff2ee" stroke="#fff2ee" stroke-width="0.2" textLength="20.50" lengthAdjust="spacingAndGlyphs" >97.01</text>
<text x="402.05" y="335.72" font-size="8.16" text-anchor="middle" fill="#262626" stroke="#262626" stroke-width="0.2" textLength="15.94" lengthAdjust="spacingAndGlyphs" >1.87</text>
<text x="422.82" y="335.72" font-size="8.16" text-anchor="middle" fill="#262626" stroke="#262626" stroke-width="0.2" textLength="11.39" lengthAdjust="spacingAndGlyphs" >0.0</text>
<text x="443.58" y="335.72" font-size="8.16" text-anchor="middle" fill="#262626" stroke="#262626" stroke-width="0.2" textLength="15.94" lengthAdjust="spacingAndGlyphs" >0.09</text>
<text x="464.35" y="335.72" font-size="8.16" text-anchor="middle" fill="#262626" stroke="#262626" stroke-width="0.2" textLength="15.94" lengthAdjust="spacingAndGlyphs" >0.19</text>
<text x="485.12" y="335.72" font-size="8.16" text-anchor="middle" fill="#262626" stroke="#262626" stroke-width="0.2" textLength="11.39" lengthAdjust="spacingAndGlyphs" >0.0</text>
<text x="318.98" y="356.47" font-size="8.16" text-anchor="middle" fill="#262626" stroke="#262626" stroke-width="0.2" textLength="11.39" lengthAdjust="spacingAndGlyphs" >1.9</text>
<text x="339.75" y="356.47" font-size="8.16" text-anchor="middle" fill="#262626" stroke="#262626" stroke-width="0.2" textLength="15.94" lengthAdjust="spacingAndGlyphs" >0.22</text>
<text x="360.52" y="356.47" font-size="8.16" text-anchor="middle" fill="#262626" stroke="#262626" stroke-width="0.2" textLength="15.94" lengthAdjust="spacingAndGlyphs" >6.03</text>
<text x="381.28" y="356.47" font-size="8.16" text-anchor="middle" fill="#262626" stroke="#262626" stroke-width="0.2" textLength="15.94" lengthAdjust="spacingAndGlyphs" >2.79</text>
<text x="402.05" y="356.47" font-size="8.16" text-anchor="middle" fill="#fff2ee" stroke="#fff2ee" stroke-width="0.2" textLength="20.50" lengthAdjust="spacingAndGlyphs" >85.38</text>
<text x="422.82" y="356.47" font-size="8.16" text-anchor="middle" fill="#262626" stroke="#262626" stroke-width="0.2" textLength="15.94" lengthAdjust="spacingAndGlyphs" >1.45</text>
<text x="443.58" y="356.47" font-size="8.16" text-anchor="middle" fill="#262626" stroke="#262626" stroke-width="0.2" textLength="11.39" lengthAdjust="spacingAndGlyphs" >1.0</text>
<text x="464.35" y="356.47" font-size="8.16" text-anchor="middle" fill="#262626" stroke="#262626" stroke-width="0.2" textLength="15.94" lengthAdjust="spacingAndGlyphs" >1.23</text>
<text x="485.12" y="356.47" font-size="8.16" text-anchor="middle" fill="#262626" stroke="#262626" stroke-width="0.2" textLength="11.39" lengthAdjust="spacingAndGlyphs" >0.0</text>
<text x="318.98" y="377.21" font-size="8.16" text-anchor="middle" fill="#262626" stroke="#262626" stroke-width="0.2" textLength="15.94" lengthAdjust="spacingAndGlyphs" >2.69</text>
<text x="339.75" y="377.21" font-size="8.16" text-anchor="middle" fill="#262626" stroke="#262626" stroke-width="0.2" textLength="11.39" lengthAdjust="spacingAndGlyphs" >0.0</text>
<text x="360.52" y="377.21" font-size="8.16" text-anchor="middle" fill="#262626" stroke="#262626" stroke-width="0.2" textLength="15.94" lengthAdjust="spacingAndGlyphs" >1.68</text>
<text x="381.28" y="377.21" font-size="8.16" text-anchor="middle" fill="#262626" stroke="#262626" stroke-width="0.2" textLength="11.39" lengthAdjust="spacingAndGlyphs" >0.0</text>
<text x="402.05" y="377.21" font-size="8.16" text-anchor="middle" fill="#262626" stroke="#262626" stroke-width="0.2" textLength="15.94" lengthAdjust="spacingAndGlyphs" >6.06</text>
<text x="422.82" y="377.21" font-size="8.16" text-anchor="middle" fill="#fff2ee" stroke="#fff2ee" stroke-width="0.2" textLength="20.50" lengthAdjust="spacingAndGlyphs" >89.56</text>
<text x="443.58" y="377.21" font-size="8.16" text-anchor="middle" fill="#262626" stroke="#262626" stroke-width="0.2" textLength="11.39" lengthAdjust="spacingAndGlyphs" >0.0</text>
<text x="464.35" y="377.21" font-size="8.16" text-anchor="middle" fill="#262626" stroke="#262626" stroke-width="0.2" textLength="11.39" lengthAdjust="spacingAndGlyphs" >0.0</text>
<text x="485.12" y="377.21" font-size="8.16" text-anchor="middle" fill="#262626" stroke="#262626" stroke-width="0.2" textLength="11.39" lengthAdjust="spacingAndGlyphs" >0.0</text>
<text x="318.98" y="397.95" font-size="8.16" text-anchor="middle" fill="#262626" stroke="#262626" stroke-width="0.2" textLength="11.39" lengthAdjust="spacingAndGlyphs" >0.0</text>
<text x="339.75" y="397.95" font-size="8.16" text-anchor="middle" fill="#262626" stroke="#262626" stroke-width="0.2" textLength="15.94" lengthAdjust="spacingAndGlyphs" >0.47</text>
<text x="360.52" y="397.95" font-size="8.16" text-anchor="middle" fill="#262626" stroke="#262626" stroke-width="0.2" textLength="11.39" lengthAdjust="spacingAndGlyphs" >1.4</text>
<text x="381.28" y="397.95" font-size="8.16" text-anchor="middle" fill="#262626" stroke="#262626" stroke-width="0.2" textLength="15.94" lengthAdjust="spacingAndGlyphs" >0.47</text>
<text x="402.05" y="397.95" font-size="8.16" text-anchor="middle" fill="#262626" stroke="#262626" stroke-width="0.2" textLength="15.94" lengthAdjust="spacingAndGlyphs" >2.33</text>
<text x="422.82" y="397.95" font-size="8.16" text-anchor="middle" fill="#262626" stroke="#262626" stroke-width="0.2" textLength="11.39" lengthAdjust="spacingAndGlyphs" >0.0</text>
<text x="443.58" y="397.95" font-size="8.16" text-anchor="middle" fill="#fff2ee" stroke="#fff2ee" stroke-width="0.2" textLength="20.50" lengthAdjust="spacingAndGlyphs" >94.88</text>
<text x="464.35" y="397.95" font-size="8.16" text-anchor="middle" fill="#262626" stroke="#262626" stroke-width="0.2" textLength="15.94" lengthAdjust="spacingAndGlyphs" >0.47</text>
<text x="485.12" y="397.95" font-size="8.16" text-anchor="middle" fill="#262626" stroke="#262626" stroke-width="0.2" textLength="11.39" lengthAdjust="spacingAndGlyphs" >0.0</text>
<text x="318.98" y="418.70" font-size="8.16" text-anchor="middle" fill="#262626" stroke="#262626" stroke-width="0.2" textLength="11.39" lengthAdjust="spacingAndGlyphs" >0.0</text>
<text x="339.75" y="418.70" font-size="8.16" text-anchor="middle" fill="#262626" stroke="#262626" stroke-width="0.2" textLength="11.39" lengthAdjust="spacingAndGlyphs" >0.0</text>
<text x="360.52" y="418.70" font-size="8.16" text-anchor="middle" fill="#262626" stroke="#262626" stroke-width="0.2" textLength="11.39" lengthAdjust="spacingAndGlyphs" >0.0</text>
<text x="381.28" y="418.70" font-size="8.16" text-anchor="middle" fill="#262626" stroke="#262626" stroke-width="0.2" textLength="11.39" lengthAdjust="spacingAndGlyphs" >2.9</text>
<text x="402.05" y="418.70" font-size="8.16" text-anchor="middle" fill="#262626" stroke="#262626" stroke-width="0.2" textLength="15.94" lengthAdjust="spacingAndGlyphs" >4.35</text>
<text x="422.82" y="418.70" font-size="8.16" text-anchor="middle" fill="#262626" stroke="#262626" stroke-width="0.2" textLength="15.94" lengthAdjust="spacingAndGlyphs" >0.72</text>
<text x="443.58" y="418.70" font-size="8.16" text-anchor="middle" fill="#262626" stroke="#262626" stroke-width="0.2" textLength="11.39" lengthAdjust="spacingAndGlyphs" >0.0</text>
<text x="464.35" y="418.70" font-size="8.16" text-anchor="middle" fill="#fff2ee" stroke="#fff2ee" stroke-width="0.2" textLength="20.50" lengthAdjust="spacingAndGlyphs" >92.03</text>
<text x="485.12" y="418.70" font-size="8.16" text-anchor="middle" fill="#262626" stroke="#262626" stroke-width="0.2" textLength="11.39" lengthAdjust="spacingAndGlyphs" >0.0</text>
<text x="318.98" y="439.44" font-size="8.16" text-anchor="middle" fill="#262626" stroke="#262626" stroke-width="0.2" textLength="11.39" lengthAdjust="spacingAndGlyphs" >0.0</text>
<text x="339.75" y="439.44" font-size="8.16" text-anchor="middle" fill="#262626" stroke="#262626" stroke-width="0.2" textLength="11.39" lengthAdjust="spacingAndGlyphs" >0.0</text>
<text x="360.52" y="439.44" font-size="8.16" text-anchor="middle" fill="#262626" stroke="#262626" stroke-width="0.2" textLength="11.39" lengthAdjust="spacingAndGlyphs" >0.0</text>
<text x="381.28" y="439.44" font-size="8.16" text-anchor="middle" fill="#262626" stroke="#262626" stroke-width="0.2" textLength="11.39" lengthAdjust="spacingAndGlyphs" >0.0</text>
<text x="402.05" y="439.44" font-size="8.16" text-anchor="middle" fill="#262626" stroke="#262626" stroke-width="0.2" textLength="11.39" lengthAdjust="spacingAndGlyphs" >0.0</text>
<text x="422.82" y="439.44" font-size="8.16" text-anchor="middle" fill="#262626" stroke="#262626" stroke-width="0.2" textLength="11.39" lengthAdjust="spacingAndGlyphs" >0.0</text>
<text x="443.58" y="439.44" font-size="8.16" text-anchor="middle" fill="#262626" stroke="#262626" stroke-width="0.2" textLength="11.39" lengthAdjust="spacingAndGlyphs" >0.0</text>
<text x="464.35" y="439.44" font-size="8.16" text-anchor="middle" fill="#262626" stroke="#262626" stroke-width="0.2" textLength="11.39" lengthAdjust="spacingAndGlyphs" >0.0</text>
<text x="485.12" y="439.44" font-size="8.16" text-anchor="middle" fill="#fff2ee" stroke="#fff2ee" stroke-width="0.2" textLength="20.50" lengthAdjust="spacingAndGlyphs" >100.0</text>
<rect x="308.60" y="260.30" width="186.90" height="186.70" fill="none" stroke="#2a2a2a" stroke-width="1.0"/>
<line x1="305.30" y1="270.67" x2="308.60" y2="270.67" stroke="#2a2a2a" stroke-width="1.2"/>
<text x="302.10" y="273.91" font-size="8.80" text-anchor="end" fill="#262626" stroke="#262626" stroke-width="0.35" textLength="9.97" lengthAdjust="spacingAndGlyphs" >C1</text>
<line x1="318.98" y1="447.00" x2="318.98" y2="450.30" stroke="#2a2a2a" stroke-width="1.2"/>
<text x="318.98" y="459.15" font-size="8.80" text-anchor="middle" fill="#262626" stroke="#262626" stroke-width="0.35" textLength="9.97" lengthAdjust="spacingAndGlyphs" >C1</text>
<line x1="305.30" y1="291.42" x2="308.60" y2="291.42" stroke="#2a2a2a" stroke-width="1.2"/>
<text x="302.10" y="294.65" font-size="8.80" text-anchor="end" fill="#262626" stroke="#262626" stroke-width="0.35" textLength="9.97" lengthAdjust="spacingAndGlyphs" >C2</text>
<line x1="339.75" y1="447.00" x2="339.75" y2="450.30" stroke="#2a2a2a" stroke-width="1.2"/>
<text x="339.75" y="459.15" font-size="8.80" text-anchor="middle" fill="#262626" stroke="#262626" stroke-width="0.35" textLength="9.97" lengthAdjust="spacingAndGlyphs" >C2</text>
<line x1="305.30" y1="312.16" x2="308.60" y2="312.16" stroke="#2a2a2a" stroke-width="1.2"/>
<text x="302.10" y="315.40" font-size="8.80" text-anchor="end" fill="#262626" stroke="#262626" stroke-width="0.35" textLength="9.97" lengthAdjust="spacingAndGlyphs" >C3</text>
<line x1="360.52" y1="447.00" x2="360.52" y2="450.30" stroke="#2a2a2a" stroke-width="1.2"/>
<text x="360.52" y="459.15" font-size="8.80" text-anchor="middle" fill="#262626" stroke="#262626" stroke-width="0.35" textLength="9.97" lengthAdjust="spacingAndGlyphs" >C3</text>
<line x1="305.30" y1="332.91" x2="308.60" y2="332.91" stroke="#2a2a2a" stroke-width="1.2"/>
<text x="302.10" y="336.14" font-size="8.80" text-anchor="end" fill="#262626" stroke="#262626" stroke-width="0.35" textLength="9.97" lengthAdjust="spacingAndGlyphs" >C4</text>
<line x1="381.28" y1="447.00" x2="381.28" y2="450.30" stroke="#2a2a2a" stroke-width="1.2"/>
<text x="381.28" y="459.15" font-size="8.80" text-anchor="middle" fill="#262626" stroke="#262626" stroke-width="0.35" textLength="9.97" lengthAdjust="spacingAndGlyphs" >C4</text>
<line x1="305.30" y1="353.65" x2="308.60" y2="353.65" stroke="#2a2a2a" stroke-width="1.2"/>
<text x="302.10" y="356.89" font-size="8.80" text-anchor="end" fill="#262626" stroke="#262626" stroke-width="0.35" textLength="9.97" lengthAdjust="spacingAndGlyphs" >C5</text>
<line x1="402.05" y1="447.00" x2="402.05" y2="450.30" stroke="#2a2a2a" stroke-width="1.2"/>
<text x="402.05" y="459.15" font-size="8.80" text-anchor="middle" fill="#262626" stroke="#262626" stroke-width="0.35" textLength="9.97" lengthAdjust="spacingAndGlyphs" >C5</text>
<line x1="305.30" y1="374.39" x2="308.60" y2="374.39" stroke="#2a2a2a" stroke-width="1.2"/>
<text x="302.10" y="377.63" font-size="8.80" text-anchor="end" fill="#262626" stroke="#262626" stroke-width="0.35" textLength="9.97" lengthAdjust="spacingAndGlyphs" >C6</text>
<line x1="422.82" y1="447.00" x2="422.82" y2="450.30" stroke="#2a2a2a" stroke-width="1.2"/>
<text x="422.82" y="459.15" font-size="8.80" text-anchor="middle" fill="#262626" stroke="#262626" stroke-width="0.35" textLength="9.97" lengthAdjust="spacingAndGlyphs" >C6</text>
<line x1="305.30" y1="395.14" x2="308.60" y2="395.14" stroke="#2a2a2a" stroke-width="1.2"/>
<text x="302.10" y="398.37" font-size="8.80" text-anchor="end" fill="#262626" stroke="#262626" stroke-width="0.35" textLength="9.97" lengthAdjust="spacingAndGlyphs" >C7</text>
<line x1="443.58" y1="447.00" x2="443.58" y2="450.30" stroke="#2a2a2a" stroke-width="1.2"/>
<text x="443.58" y="459.15" font-size="8.80" text-anchor="middle" fill="#262626" stroke="#262626" stroke-width="0.35" textLength="9.97" lengthAdjust="spacingAndGlyphs" >C7</text>
<line x1="305.30" y1="415.88" x2="308.60" y2="415.88" stroke="#2a2a2a" stroke-width="1.2"/>
<text x="302.10" y="419.12" font-size="8.80" text-anchor="end" fill="#262626" stroke="#262626" stroke-width="0.35" textLength="9.97" lengthAdjust="spacingAndGlyphs" >C8</text>
<line x1="464.35" y1="447.00" x2="464.35" y2="450.30" stroke="#2a2a2a" stroke-width="1.2"/>
<text x="464.35" y="459.15" font-size="8.80" text-anchor="middle" fill="#262626" stroke="#262626" stroke-width="0.35" textLength="9.97" lengthAdjust="spacingAndGlyphs" >C8</text>
<line x1="305.30" y1="436.63" x2="308.60" y2="436.63" stroke="#2a2a2a" stroke-width="1.2"/>
<text x="302.10" y="439.86" font-size="8.80" text-anchor="end" fill="#262626" stroke="#262626" stroke-width="0.35" textLength="9.97" lengthAdjust="spacingAndGlyphs" >C9</text>
<line x1="485.12" y1="447.00" x2="485.12" y2="450.30" stroke="#2a2a2a" stroke-width="1.2"/>
<text x="485.12" y="459.15" font-size="8.80" text-anchor="middle" fill="#262626" stroke="#262626" stroke-width="0.35" textLength="9.97" lengthAdjust="spacingAndGlyphs" >C9</text>
<text x="402.05" y="254.90" font-size="8.80" text-anchor="middle" fill="#262626" stroke="#262626" stroke-width="0.2" textLength="117.08" lengthAdjust="spacingAndGlyphs" >ResNet+Improved CBAM(%)</text>
<text x="402.05" y="470.80" font-size="8.80" text-anchor="middle" fill="#262626" stroke="#262626" stroke-width="0.2" textLength="41.23" lengthAdjust="spacingAndGlyphs" >Prediction</text>
<text x="287.40" y="353.65" font-size="8.80" text-anchor="middle" fill="#262626" stroke="#262626" stroke-width="0.2" textLength="54.21" lengthAdjust="spacingAndGlyphs" transform="rotate(-90 287.40 353.65)">Ground Truth</text>
<rect x="510.50" y="260.30" width="9.30" height="186.70" fill="url(#reds)" stroke="#2a2a2a" stroke-width="1.0"/>
<line x1="519.80" y1="447.00" x2="522.80" y2="447.00" stroke="#2a2a2a" stroke-width="1.2"/>
<text x="525.80" y="450.04" font-size="8.80" text-anchor="start" fill="#262626" stroke="#262626" stroke-width="0.2" textLength="5.28" lengthAdjust="spacingAndGlyphs" >0</text>
<line x1="519.80" y1="409.66" x2="522.80" y2="409.66" stroke="#2a2a2a" stroke-width="1.2"/>
<text x="525.80" y="412.70" font-size="8.80" text-anchor="start" fill="#262626" stroke="#262626" stroke-width="0.2" textLength="10.56" lengthAdjust="spacingAndGlyphs" >20</text>
<line x1="519.80" y1="372.32" x2="522.80" y2="372.32" stroke="#2a2a2a" stroke-width="1.2"/>
<text x="525.80" y="375.36" font-size="8.80" text-anchor="start" fill="#262626" stroke="#262626" stroke-width="0.2" textLength="10.56" lengthAdjust="spacingAndGlyphs" >40</text>
<line x1="519.80" y1="334.98" x2="522.80" y2="334.98" stroke="#2a2a2a" stroke-width="1.2"/>
<text x="525.80" y="338.02" font-size="8.80" text-anchor="start" fill="#262626" stroke="#262626" stroke-width="0.2" textLength="10.56" lengthAdjust="spacingAndGlyphs" >60</text>
<line x1="519.80" y1="297.64" x2="522.80" y2="297.64" stroke="#2a2a2a" stroke-width="1.2"/>
<text x="525.80" y="300.68" font-size="8.80" text-anchor="start" fill="#262626" stroke="#262626" stroke-width="0.2" textLength="10.56" lengthAdjust="spacingAndGlyphs" >80</text>
<line x1="519.80" y1="260.30" x2="522.80" y2="260.30" stroke="#2a2a2a" stroke-width="1.2"/>
<text x="525.80" y="263.34" font-size="8.80" text-anchor="start" fill="#262626" stroke="#262626" stroke-width="0.2" textLength="15.84" lengthAdjust="spacingAndGlyphs" >100</text>
<text x="411.35" y="482.40" font-size="8.46" font-weight="bold" font-family="Liberation Serif, serif" text-anchor="middle" fill="#262626" stroke="#262626" stroke-width="0.35" textLength="11.64" lengthAdjust="spacingAndGlyphs">(<tspan font-size="9.31">c</tspan>)</text>
</svg>
</body></html>
